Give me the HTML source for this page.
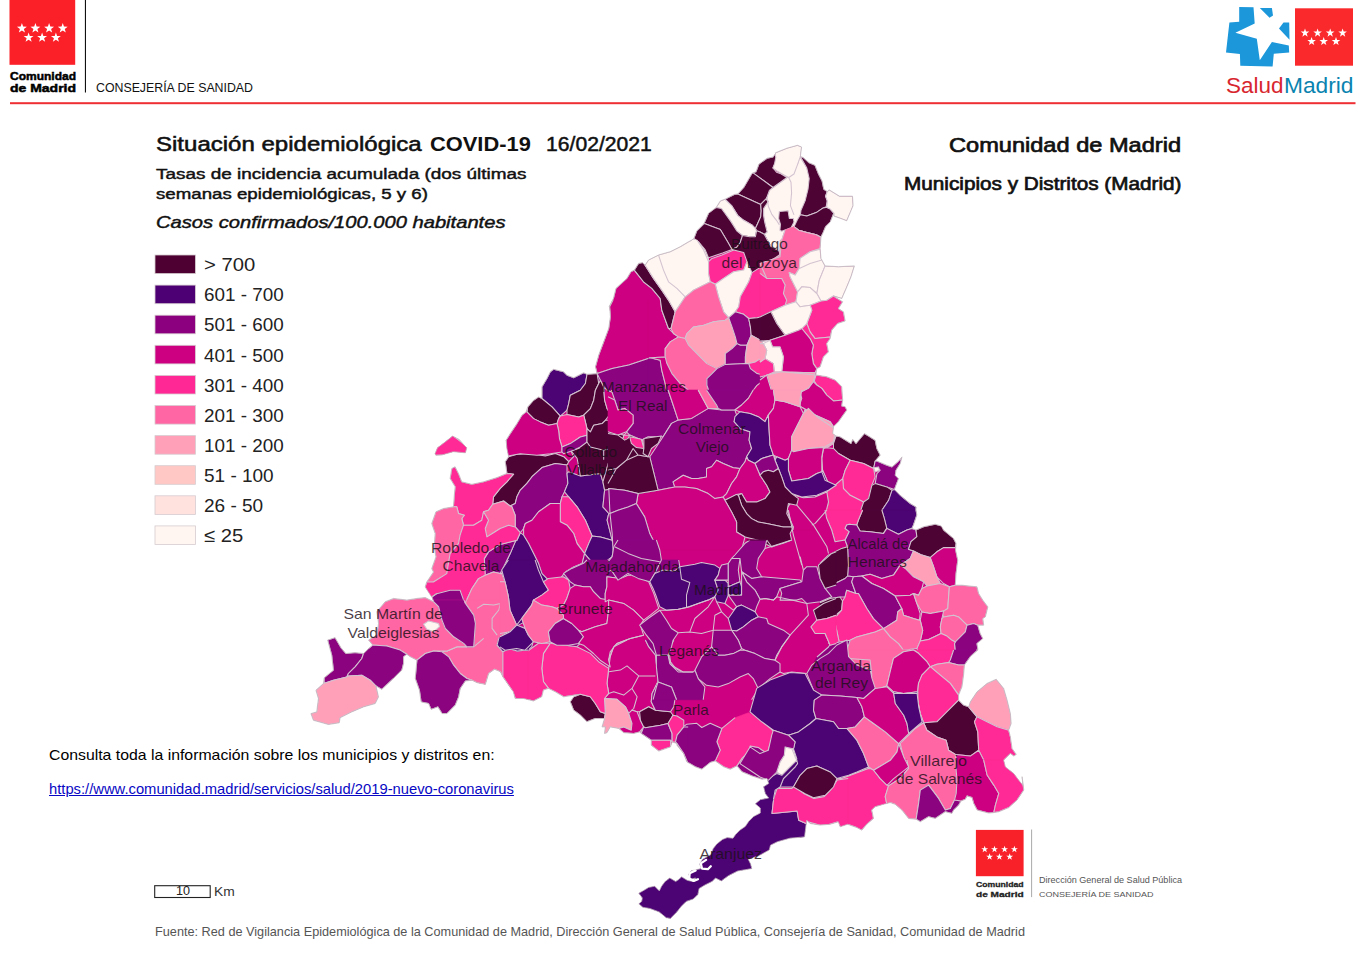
<!DOCTYPE html>
<html lang="es"><head><meta charset="utf-8"><title>Situación epidemiológica COVID-19</title>
<style>
html,body{margin:0;padding:0;background:#fff;}
body{width:1366px;height:958px;position:relative;overflow:hidden;font-family:'Liberation Sans',sans-serif;}
.t{position:absolute;white-space:pre;line-height:1;transform-origin:0 0;font-family:'Liberation Sans',sans-serif;}
svg{position:absolute;left:0;top:0;}
.lb{font-family:'Liberation Sans',sans-serif;font-size:14.6px;fill:#1d0f19;fill-opacity:0.82;}
</style></head><body>
<svg width="1366" height="958" viewBox="0 0 1366 958">
<rect x="9.5" y="0" width="65.7" height="64.8" fill="#fb1f27"/>
<polygon points="21.90,23.10 23.12,26.62 26.85,26.69 23.88,28.94 24.96,32.51 21.90,30.38 18.84,32.51 19.92,28.94 16.95,26.69 20.68,26.62" fill="#fff"/>
<polygon points="35.40,23.10 36.62,26.62 40.35,26.69 37.38,28.94 38.46,32.51 35.40,30.38 32.34,32.51 33.42,28.94 30.45,26.69 34.18,26.62" fill="#fff"/>
<polygon points="49.10,23.10 50.32,26.62 54.05,26.69 51.08,28.94 52.16,32.51 49.10,30.38 46.04,32.51 47.12,28.94 44.15,26.69 47.88,26.62" fill="#fff"/>
<polygon points="62.75,23.10 63.97,26.62 67.70,26.69 64.73,28.94 65.81,32.51 62.75,30.38 59.69,32.51 60.77,28.94 57.80,26.69 61.53,26.62" fill="#fff"/>
<polygon points="28.60,32.40 29.82,35.92 33.55,35.99 30.58,38.24 31.66,41.81 28.60,39.68 25.54,41.81 26.62,38.24 23.65,35.99 27.38,35.92" fill="#fff"/>
<polygon points="42.10,32.40 43.32,35.92 47.05,35.99 44.08,38.24 45.16,41.81 42.10,39.68 39.04,41.81 40.12,38.24 37.15,35.99 40.88,35.92" fill="#fff"/>
<polygon points="55.90,32.40 57.12,35.92 60.85,35.99 57.88,38.24 58.96,41.81 55.90,39.68 52.84,41.81 53.92,38.24 50.95,35.99 54.68,35.92" fill="#fff"/>
<rect x="84.9" y="0" width="1.1" height="92.5" fill="#111"/>
<rect x="10" y="102.2" width="1345.5" height="2" fill="#ee2f33"/>
<rect x="1295" y="8.3" width="58" height="57.4" fill="#fa2a2c"/>
<polygon points="1305.00,28.50 1306.06,31.54 1309.28,31.61 1306.71,33.56 1307.65,36.64 1305.00,34.80 1302.35,36.64 1303.29,33.56 1300.72,31.61 1303.94,31.54" fill="#fff"/>
<polygon points="1317.60,28.50 1318.66,31.54 1321.88,31.61 1319.31,33.56 1320.25,36.64 1317.60,34.80 1314.95,36.64 1315.89,33.56 1313.32,31.61 1316.54,31.54" fill="#fff"/>
<polygon points="1330.20,28.50 1331.26,31.54 1334.48,31.61 1331.91,33.56 1332.85,36.64 1330.20,34.80 1327.55,36.64 1328.49,33.56 1325.92,31.61 1329.14,31.54" fill="#fff"/>
<polygon points="1342.60,28.50 1343.66,31.54 1346.88,31.61 1344.31,33.56 1345.25,36.64 1342.60,34.80 1339.95,36.64 1340.89,33.56 1338.32,31.61 1341.54,31.54" fill="#fff"/>
<polygon points="1311.60,36.90 1312.66,39.94 1315.88,40.01 1313.31,41.96 1314.25,45.04 1311.60,43.20 1308.95,45.04 1309.89,41.96 1307.32,40.01 1310.54,39.94" fill="#fff"/>
<polygon points="1323.70,36.90 1324.76,39.94 1327.98,40.01 1325.41,41.96 1326.35,45.04 1323.70,43.20 1321.05,45.04 1321.99,41.96 1319.42,40.01 1322.64,39.94" fill="#fff"/>
<polygon points="1336.00,36.90 1337.06,39.94 1340.28,40.01 1337.71,41.96 1338.65,45.04 1336.00,43.20 1333.35,45.04 1334.29,41.96 1331.72,40.01 1334.94,39.94" fill="#fff"/>
<polygon fill="#1b97da" points="1239.2,7.1 1253.5,7.3 1254.7,23.5 1235.4,32.7 1256.8,38.7 1259.8,60.2 1271.9,42.1 1288.8,45.5 1289.2,52.6 1273.8,53.8 1272.6,66.5 1240.3,65.8 1239.9,54.1 1226,52.6 1229.4,22.6 1239.2,21.8"/>
<polygon fill="#1b97da" points="1259.8,7.9 1271.9,7.9 1273,15.4 1269.6,17.7"/>
<polygon fill="#1b97da" points="1279,28.6 1283.5,22.6 1289.2,22.6 1289.5,39.8"/>
<rect x="155" y="255.0" width="40.4" height="18.6" fill="#4e0033" stroke="#d6ccd0" stroke-width="0.8"/>
<rect x="155" y="285.1" width="40.4" height="18.6" fill="#4c0073" stroke="#d6ccd0" stroke-width="0.8"/>
<rect x="155" y="315.2" width="40.4" height="18.6" fill="#8c0080" stroke="#d6ccd0" stroke-width="0.8"/>
<rect x="155" y="345.3" width="40.4" height="18.6" fill="#cc0080" stroke="#d6ccd0" stroke-width="0.8"/>
<rect x="155" y="375.4" width="40.4" height="18.6" fill="#ff2894" stroke="#d6ccd0" stroke-width="0.8"/>
<rect x="155" y="405.5" width="40.4" height="18.6" fill="#ff66a3" stroke="#d6ccd0" stroke-width="0.8"/>
<rect x="155" y="435.6" width="40.4" height="18.6" fill="#ff9fb8" stroke="#d6ccd0" stroke-width="0.8"/>
<rect x="155" y="465.7" width="40.4" height="18.6" fill="#ffc8c4" stroke="#d6ccd0" stroke-width="0.8"/>
<rect x="155" y="495.8" width="40.4" height="18.6" fill="#ffe2de" stroke="#d6ccd0" stroke-width="0.8"/>
<rect x="155" y="525.9" width="40.4" height="18.6" fill="#fff5f1" stroke="#d6ccd0" stroke-width="0.8"/>
<rect x="154.7" y="885.7" width="55.5" height="11.8" fill="#fff" stroke="#222" stroke-width="1.1"/>
<rect x="975.9" y="829.9" width="47.7" height="46.3" fill="#f8212a"/>
<polygon points="984.70,845.80 985.55,848.24 988.12,848.29 986.07,849.84 986.82,852.31 984.70,850.84 982.58,852.31 983.33,849.84 981.28,848.29 983.85,848.24" fill="#fff"/>
<polygon points="994.50,845.80 995.35,848.24 997.92,848.29 995.87,849.84 996.62,852.31 994.50,850.84 992.38,852.31 993.13,849.84 991.08,848.29 993.65,848.24" fill="#fff"/>
<polygon points="1004.60,845.80 1005.45,848.24 1008.02,848.29 1005.97,849.84 1006.72,852.31 1004.60,850.84 1002.48,852.31 1003.23,849.84 1001.18,848.29 1003.75,848.24" fill="#fff"/>
<polygon points="1014.40,845.80 1015.25,848.24 1017.82,848.29 1015.77,849.84 1016.52,852.31 1014.40,850.84 1012.28,852.31 1013.03,849.84 1010.98,848.29 1013.55,848.24" fill="#fff"/>
<polygon points="989.60,853.20 990.45,855.64 993.02,855.69 990.97,857.24 991.72,859.71 989.60,858.24 987.48,859.71 988.23,857.24 986.18,855.69 988.75,855.64" fill="#fff"/>
<polygon points="999.40,853.20 1000.25,855.64 1002.82,855.69 1000.77,857.24 1001.52,859.71 999.40,858.24 997.28,859.71 998.03,857.24 995.98,855.69 998.55,855.64" fill="#fff"/>
<polygon points="1009.70,853.20 1010.55,855.64 1013.12,855.69 1011.07,857.24 1011.82,859.71 1009.70,858.24 1007.58,859.71 1008.33,857.24 1006.28,855.69 1008.85,855.64" fill="#fff"/>
<rect x="1031.1" y="829.5" width="1" height="67.6" fill="#aaa"/>
<defs><clipPath id="mc"><path id="ol" d="M775.2,152.9 L786.9,148.2 L797.5,145.3 L801.6,147.0 L800.4,156.4 L803.3,157.6 L809.2,162.8 L815.0,165.2 L818.5,174.0 L822.1,181.0 L823.8,189.2 L827.3,191.5 L829.1,189.8 L839.6,196.2 L852.5,196.2 L853.1,205.6 L850.2,212.6 L846.7,220.8 L840.8,218.5 L833.8,216.1 L833.8,213.2 L830.3,222.0 L825.6,226.7 L823.2,232.5 L820.9,237.2 L821.0,236.7 L820.1,248.4 L821.0,258.4 L825.1,265.9 L838.5,266.7 L854.4,265.9 L851.0,276.8 L846.9,286.8 L841.8,298.5 L833.5,296.0 L842.7,301.8 L838.5,308.5 L843.5,311.8 L845.2,321.0 L837.7,323.5 L831.8,330.2 L830.2,338.6 L826.8,343.6 L828.5,351.9 L823.5,356.9 L820.1,367.0 L816.8,368.6 L816.0,374.5 L816.0,375.0 L826.8,376.7 L835.2,380.0 L841.8,386.7 L842.7,400.1 L841.8,405.9 L845.2,406.7 L846.9,410.1 L842.7,415.9 L838.5,421.8 L833.5,426.8 L832.7,433.5 L836.0,436.0 L840.2,436.8 L851.0,443.5 L852.7,439.3 L856.0,443.5 L864.4,433.5 L868.6,436.0 L875.2,440.2 L876.9,448.5 L880.3,455.2 L875.2,461.0 L876.9,461.0 L886.9,465.2 L892.0,466.9 L898.6,461.0 L902.0,456.9 L900.3,463.5 L896.1,470.2 L895.3,475.2 L898.6,478.6 L896.1,485.2 L894.5,489.4 L900.3,495.3 L910.3,503.6 L916.2,507.0 L916.0,510.0 L916.9,515.0 L913.5,525.0 L911.9,528.4 L916.0,530.0 L923.6,526.7 L935.2,524.2 L941.1,525.9 L943.6,530.0 L953.6,538.4 L956.1,543.4 L955.6,550.1 L957.8,560.1 L956.1,573.5 L955.3,585.2 L962.0,585.2 L977.0,586.8 L978.7,593.5 L982.9,600.2 L987.9,606.9 L985.4,616.9 L982.9,618.6 L983.7,625.2 L977.8,625.2 L980.3,633.6 L982.9,638.6 L977.0,643.6 L977.8,648.6 L977.8,650.0 L970.3,656.7 L964.5,665.0 L963.6,675.1 L962.0,686.7 L958.6,695.1 L958.6,700.1 L963.6,705.1 L968.7,706.8 L970.3,701.8 L977.0,691.8 L987.0,683.4 L996.2,679.2 L1003.7,688.4 L1007.1,700.1 L1010.4,713.5 L1011.2,723.5 L1008.7,730.2 L1010.4,736.9 L1012.1,748.5 L1016.3,754.4 L1013.8,756.1 L1010.4,753.6 L1003.7,760.2 L1005.4,766.9 L1013.8,773.6 L1018.8,780.3 L1022.9,785.3 L1022.1,776.7 L1023.8,790.1 L1017.1,800.1 L1008.8,807.6 L998.8,811.8 L993.8,812.6 L988.7,813.1 L977.1,810.1 L973.7,803.4 L972.0,797.6 L967.0,795.9 L965.4,799.3 L961.2,800.9 L958.7,805.1 L953.7,810.1 L952.0,813.4 L945.3,811.8 L935.3,818.5 L928.6,816.8 L920.3,821.8 L916.1,819.3 L908.6,818.5 L901.9,810.1 L895.2,804.3 L890.2,802.6 L883.5,804.3 L875.2,806.8 L871.8,810.1 L873.5,818.5 L866.8,824.3 L861.8,830.2 L856.8,827.6 L847.6,824.3 L840.1,826.8 L838.4,821.8 L830.1,824.3 L820.0,825.1 L810.0,823.5 L806.7,820.1 L806.3,823.1 L804.6,836.9 L790.0,838.2 L777.5,841.7 L770.5,845.2 L769.3,849.9 L758.8,855.8 L748.3,859.3 L750.6,864.0 L751.8,868.6 L737.7,871.0 L728.4,875.7 L721.3,880.9 L715.5,878.0 L712.0,881.5 L704.9,885.0 L699.1,888.5 L697.9,894.4 L693.2,899.1 L686.2,901.4 L681.5,906.1 L676.8,912.0 L670.4,918.4 L666.3,917.8 L659.3,912.0 L649.9,908.5 L642.9,907.3 L638.8,903.8 L641.7,901.4 L642.3,897.9 L638.8,893.2 L642.9,890.9 L648.7,887.4 L654.6,886.2 L659.3,890.9 L661.6,886.2 L665.1,881.5 L669.8,878.0 L675.7,881.5 L679.2,879.2 L681.5,876.8 L687.4,880.4 L693.2,881.5 L695.6,878.0 L690.9,879.2 L688.5,874.5 L690.9,871.0 L695.6,869.8 L701.4,868.6 L699.7,864.0 L702.6,859.3 L710.8,854.6 L713.1,848.7 L716.7,844.1 L722.5,839.4 L727.2,837.6 L733.0,838.2 L735.4,834.7 L740.1,830.0 L745.3,826.4 L748.7,821.4 L753.7,816.4 L760.3,813.0 L760.3,808.0 L755.3,803.8 L760.3,799.7 L768.7,798.0 L765.3,793.5 L763.6,786.8 L768.7,783.5 L767.0,778.5 L762.0,779.3 L752.0,776.0 L741.9,771.8 L736.9,765.9 L730.2,769.3 L723.6,766.8 L715.2,760.9 L710.2,762.6 L701.8,769.3 L695.2,766.8 L686.8,761.8 L683.5,753.4 L676.8,745.1 L677.1,743.6 L672.1,741.9 L670.5,746.9 L658.8,751.1 L651.2,745.2 L651.2,740.2 L641.2,733.5 L639.6,731.9 L633.7,733.5 L623.7,732.7 L618.7,728.5 L610.3,726.9 L607.0,732.7 L604.5,733.5 L605.3,726.9 L602.0,726.9 L604.5,718.5 L595.3,718.5 L586.9,721.8 L580.3,715.2 L573.6,710.2 L570.2,701.8 L573.6,696.8 L580.3,694.3 L563.6,696.8 L555.2,691.8 L548.5,688.4 L543.5,690.1 L541.8,696.8 L533.5,701.0 L523.5,698.5 L515.1,698.5 L513.4,691.8 L512.1,690.2 L502.9,676.9 L500.4,671.8 L494.6,669.3 L488.7,673.5 L485.4,684.4 L477.1,682.7 L472.0,680.2 L465.4,681.0 L460.3,688.5 L458.7,696.9 L455.3,705.2 L447.0,713.6 L442.0,713.6 L437.8,706.9 L431.1,709.4 L428.6,703.6 L421.1,701.9 L419.4,690.2 L415.2,678.5 L416.9,660.2 L410.2,656.8 L406.9,654.3 L403.6,656.8 L403.6,663.5 L401.9,670.2 L393.5,678.5 L381.8,689.4 L376.0,686.0 L378.5,696.9 L375.2,703.6 L363.5,706.9 L351.8,711.9 L340.1,717.8 L339.3,722.8 L328.4,724.5 L313.4,720.3 L310.9,713.6 L316.7,711.9 L318.4,698.6 L315.9,690.2 L323.4,683.5 L324.2,677.7 L333.4,670.2 L331.7,655.1 L327.6,640.1 L335.1,637.6 L340.9,647.6 L345.9,653.5 L355.1,652.6 L363.5,653.5 L368.5,648.5 L372.7,645.1 L368.5,640.1 L376.8,635.1 L378.5,623.4 L376.8,611.7 L385.2,601.7 L393.5,598.4 L406.9,600.0 L416.9,598.4 L425.3,597.5 L433.6,601.7 L432.0,596.7 L437.0,593.3 L431.7,597.0 L425.1,587.0 L426.7,582.0 L433.4,572.0 L431.7,568.6 L435.9,556.9 L434.2,546.9 L435.1,533.5 L431.7,523.5 L435.9,511.8 L443.4,508.5 L453.4,506.8 L454.3,495.1 L455.1,486.8 L450.1,478.4 L451.8,468.4 L455.1,466.7 L458.5,473.4 L461.8,481.8 L471.8,484.3 L483.5,481.8 L496.9,477.6 L506.9,473.4 L505.2,461.7 L508.6,456.7 L506.9,448.4 L506.1,440.0 L506.0,440.3 L510.2,433.6 L516.9,423.6 L521.9,415.2 L526.1,411.9 L527.7,406.9 L533.6,400.2 L538.6,396.9 L541.9,398.5 L541.9,386.9 L546.9,378.5 L550.3,371.8 L553.6,369.3 L563.6,371.8 L567.0,375.2 L573.7,377.7 L583.7,372.7 L587.0,374.3 L597.1,373.5 L595.4,366.8 L598.7,355.1 L603.7,341.8 L608.7,328.4 L610.4,316.7 L609.6,306.7 L612.9,300.0 L609.2,306.8 L613.4,298.5 L615.9,288.4 L626.8,278.4 L630.9,271.7 L634.3,270.1 L638.5,263.4 L642.6,262.5 L645.1,265.1 L648.5,260.0 L658.5,255.0 L670.2,251.7 L680.2,246.7 L688.6,241.7 L691.9,240.0 L693.9,238.4 L696.8,230.8 L703.9,223.8 L708.5,213.2 L716.2,207.4 L720.3,200.9 L724.9,199.2 L734.3,194.5 L737.8,193.9 L743.7,187.5 L751.9,173.4 L756.0,171.7 L758.9,164.1 L767.1,158.2 L773.0,157.0 L775.5,153.5Z M435.0,453.7 L437.5,447.8 L445.1,442.0 L452.6,436.1 L459.3,439.5 L464.3,445.3 L466.8,447.8 L465.4,452.8 L453.4,451.7 L441.7,455.0 L435.9,455.3Z"/></clipPath></defs>
<g clip-path="url(#mc)" stroke="#d3c3d0" stroke-width="1.05" stroke-linejoin="round">
<path d="M775.2,152.9 L786.9,148.2 L797.5,145.3 L801.6,147.0 L800.4,156.4 L803.3,157.6 L809.2,162.8 L815.0,165.2 L818.5,174.0 L822.1,181.0 L823.8,189.2 L827.3,191.5 L829.1,189.8 L839.6,196.2 L852.5,196.2 L853.1,205.6 L850.2,212.6 L846.7,220.8 L840.8,218.5 L833.8,216.1 L833.8,213.2 L830.3,222.0 L825.6,226.7 L823.2,232.5 L820.9,237.2 L821.0,236.7 L820.1,248.4 L821.0,258.4 L825.1,265.9 L838.5,266.7 L854.4,265.9 L851.0,276.8 L846.9,286.8 L841.8,298.5 L833.5,296.0 L842.7,301.8 L838.5,308.5 L843.5,311.8 L845.2,321.0 L837.7,323.5 L831.8,330.2 L830.2,338.6 L826.8,343.6 L828.5,351.9 L823.5,356.9 L820.1,367.0 L816.8,368.6 L816.0,374.5 L816.0,375.0 L826.8,376.7 L835.2,380.0 L841.8,386.7 L842.7,400.1 L841.8,405.9 L845.2,406.7 L846.9,410.1 L842.7,415.9 L838.5,421.8 L833.5,426.8 L832.7,433.5 L836.0,436.0 L840.2,436.8 L851.0,443.5 L852.7,439.3 L856.0,443.5 L864.4,433.5 L868.6,436.0 L875.2,440.2 L876.9,448.5 L880.3,455.2 L875.2,461.0 L876.9,461.0 L886.9,465.2 L892.0,466.9 L898.6,461.0 L902.0,456.9 L900.3,463.5 L896.1,470.2 L895.3,475.2 L898.6,478.6 L896.1,485.2 L894.5,489.4 L900.3,495.3 L910.3,503.6 L916.2,507.0 L916.0,510.0 L916.9,515.0 L913.5,525.0 L911.9,528.4 L916.0,530.0 L923.6,526.7 L935.2,524.2 L941.1,525.9 L943.6,530.0 L953.6,538.4 L956.1,543.4 L955.6,550.1 L957.8,560.1 L956.1,573.5 L955.3,585.2 L962.0,585.2 L977.0,586.8 L978.7,593.5 L982.9,600.2 L987.9,606.9 L985.4,616.9 L982.9,618.6 L983.7,625.2 L977.8,625.2 L980.3,633.6 L982.9,638.6 L977.0,643.6 L977.8,648.6 L977.8,650.0 L970.3,656.7 L964.5,665.0 L963.6,675.1 L962.0,686.7 L958.6,695.1 L958.6,700.1 L963.6,705.1 L968.7,706.8 L970.3,701.8 L977.0,691.8 L987.0,683.4 L996.2,679.2 L1003.7,688.4 L1007.1,700.1 L1010.4,713.5 L1011.2,723.5 L1008.7,730.2 L1010.4,736.9 L1012.1,748.5 L1016.3,754.4 L1013.8,756.1 L1010.4,753.6 L1003.7,760.2 L1005.4,766.9 L1013.8,773.6 L1018.8,780.3 L1022.9,785.3 L1022.1,776.7 L1023.8,790.1 L1017.1,800.1 L1008.8,807.6 L998.8,811.8 L993.8,812.6 L988.7,813.1 L977.1,810.1 L973.7,803.4 L972.0,797.6 L967.0,795.9 L965.4,799.3 L961.2,800.9 L958.7,805.1 L953.7,810.1 L952.0,813.4 L945.3,811.8 L935.3,818.5 L928.6,816.8 L920.3,821.8 L916.1,819.3 L908.6,818.5 L901.9,810.1 L895.2,804.3 L890.2,802.6 L883.5,804.3 L875.2,806.8 L871.8,810.1 L873.5,818.5 L866.8,824.3 L861.8,830.2 L856.8,827.6 L847.6,824.3 L840.1,826.8 L838.4,821.8 L830.1,824.3 L820.0,825.1 L810.0,823.5 L806.7,820.1 L806.3,823.1 L804.6,836.9 L790.0,838.2 L777.5,841.7 L770.5,845.2 L769.3,849.9 L758.8,855.8 L748.3,859.3 L750.6,864.0 L751.8,868.6 L737.7,871.0 L728.4,875.7 L721.3,880.9 L715.5,878.0 L712.0,881.5 L704.9,885.0 L699.1,888.5 L697.9,894.4 L693.2,899.1 L686.2,901.4 L681.5,906.1 L676.8,912.0 L670.4,918.4 L666.3,917.8 L659.3,912.0 L649.9,908.5 L642.9,907.3 L638.8,903.8 L641.7,901.4 L642.3,897.9 L638.8,893.2 L642.9,890.9 L648.7,887.4 L654.6,886.2 L659.3,890.9 L661.6,886.2 L665.1,881.5 L669.8,878.0 L675.7,881.5 L679.2,879.2 L681.5,876.8 L687.4,880.4 L693.2,881.5 L695.6,878.0 L690.9,879.2 L688.5,874.5 L690.9,871.0 L695.6,869.8 L701.4,868.6 L699.7,864.0 L702.6,859.3 L710.8,854.6 L713.1,848.7 L716.7,844.1 L722.5,839.4 L727.2,837.6 L733.0,838.2 L735.4,834.7 L740.1,830.0 L745.3,826.4 L748.7,821.4 L753.7,816.4 L760.3,813.0 L760.3,808.0 L755.3,803.8 L760.3,799.7 L768.7,798.0 L765.3,793.5 L763.6,786.8 L768.7,783.5 L767.0,778.5 L762.0,779.3 L752.0,776.0 L741.9,771.8 L736.9,765.9 L730.2,769.3 L723.6,766.8 L715.2,760.9 L710.2,762.6 L701.8,769.3 L695.2,766.8 L686.8,761.8 L683.5,753.4 L676.8,745.1 L677.1,743.6 L672.1,741.9 L670.5,746.9 L658.8,751.1 L651.2,745.2 L651.2,740.2 L641.2,733.5 L639.6,731.9 L633.7,733.5 L623.7,732.7 L618.7,728.5 L610.3,726.9 L607.0,732.7 L604.5,733.5 L605.3,726.9 L602.0,726.9 L604.5,718.5 L595.3,718.5 L586.9,721.8 L580.3,715.2 L573.6,710.2 L570.2,701.8 L573.6,696.8 L580.3,694.3 L563.6,696.8 L555.2,691.8 L548.5,688.4 L543.5,690.1 L541.8,696.8 L533.5,701.0 L523.5,698.5 L515.1,698.5 L513.4,691.8 L512.1,690.2 L502.9,676.9 L500.4,671.8 L494.6,669.3 L488.7,673.5 L485.4,684.4 L477.1,682.7 L472.0,680.2 L465.4,681.0 L460.3,688.5 L458.7,696.9 L455.3,705.2 L447.0,713.6 L442.0,713.6 L437.8,706.9 L431.1,709.4 L428.6,703.6 L421.1,701.9 L419.4,690.2 L415.2,678.5 L416.9,660.2 L410.2,656.8 L406.9,654.3 L403.6,656.8 L403.6,663.5 L401.9,670.2 L393.5,678.5 L381.8,689.4 L376.0,686.0 L378.5,696.9 L375.2,703.6 L363.5,706.9 L351.8,711.9 L340.1,717.8 L339.3,722.8 L328.4,724.5 L313.4,720.3 L310.9,713.6 L316.7,711.9 L318.4,698.6 L315.9,690.2 L323.4,683.5 L324.2,677.7 L333.4,670.2 L331.7,655.1 L327.6,640.1 L335.1,637.6 L340.9,647.6 L345.9,653.5 L355.1,652.6 L363.5,653.5 L368.5,648.5 L372.7,645.1 L368.5,640.1 L376.8,635.1 L378.5,623.4 L376.8,611.7 L385.2,601.7 L393.5,598.4 L406.9,600.0 L416.9,598.4 L425.3,597.5 L433.6,601.7 L432.0,596.7 L437.0,593.3 L431.7,597.0 L425.1,587.0 L426.7,582.0 L433.4,572.0 L431.7,568.6 L435.9,556.9 L434.2,546.9 L435.1,533.5 L431.7,523.5 L435.9,511.8 L443.4,508.5 L453.4,506.8 L454.3,495.1 L455.1,486.8 L450.1,478.4 L451.8,468.4 L455.1,466.7 L458.5,473.4 L461.8,481.8 L471.8,484.3 L483.5,481.8 L496.9,477.6 L506.9,473.4 L505.2,461.7 L508.6,456.7 L506.9,448.4 L506.1,440.0 L506.0,440.3 L510.2,433.6 L516.9,423.6 L521.9,415.2 L526.1,411.9 L527.7,406.9 L533.6,400.2 L538.6,396.9 L541.9,398.5 L541.9,386.9 L546.9,378.5 L550.3,371.8 L553.6,369.3 L563.6,371.8 L567.0,375.2 L573.7,377.7 L583.7,372.7 L587.0,374.3 L597.1,373.5 L595.4,366.8 L598.7,355.1 L603.7,341.8 L608.7,328.4 L610.4,316.7 L609.6,306.7 L612.9,300.0 L609.2,306.8 L613.4,298.5 L615.9,288.4 L626.8,278.4 L630.9,271.7 L634.3,270.1 L638.5,263.4 L642.6,262.5 L645.1,265.1 L648.5,260.0 L658.5,255.0 L670.2,251.7 L680.2,246.7 L688.6,241.7 L691.9,240.0 L693.9,238.4 L696.8,230.8 L703.9,223.8 L708.5,213.2 L716.2,207.4 L720.3,200.9 L724.9,199.2 L734.3,194.5 L737.8,193.9 L743.7,187.5 L751.9,173.4 L756.0,171.7 L758.9,164.1 L767.1,158.2 L773.0,157.0 L775.5,153.5Z M435.0,453.7 L437.5,447.8 L445.1,442.0 L452.6,436.1 L459.3,439.5 L464.3,445.3 L466.8,447.8 L465.4,452.8 L453.4,451.7 L441.7,455.0 L435.9,455.3Z" fill="#cc0080" stroke="none"/>
<polygon points="433.4,455.3 436.7,447.0 452.6,435.3 467.6,447.0 465.9,454.5" fill="#ff2a95"/>
<polygon points="787.0,177.5 790.5,175.2 797.5,164.1 799.9,157.0 806.9,167.6 810.0,179.3 810.0,215.6 802.2,215.6 798.7,222.6 795.2,226.1 790.5,230.8 783.5,234.3 784.7,243.7 780.0,254.2 778.8,250.7 770.6,246.0 764.2,234.3 767.1,232.0 764.8,222.6 763.6,215.6 763.6,208.5 765.9,205.0 768.3,201.5 765.9,199.2 767.1,196.8 769.4,190.4 773.0,187.5" fill="#fff5f1" stroke="#fff5f1" stroke-width="0.6"/>
<path d="M810.0,215.6L802.2,215.6L798.7,222.6L795.2,226.1L790.5,230.8L783.5,234.3L784.7,243.7L780.0,254.2L778.8,250.7L770.6,246.0L764.2,234.3L767.1,232.0L764.8,222.6L763.6,215.6L763.6,208.5L765.9,205.0L768.3,201.5L765.9,199.2L767.1,196.8L769.4,190.4L773.0,187.5L787.0,177.5L790.5,175.2L797.5,164.1L799.9,157.0L806.9,167.6L810.0,179.3" fill="none"/>
<polygon points="650.0,257.7 659.4,255.4 667.6,251.9 680.4,246.0 688.6,242.5 693.9,238.4 699.2,242.5 705.0,249.5 708.5,257.7 708.5,278.8 650.0,278.8" fill="#fff5f1" stroke="#fff5f1" stroke-width="0.6"/>
<path d="M650.0,257.7L659.4,255.4L667.6,251.9L680.4,246.0L688.6,242.5L693.9,238.4L699.2,242.5L705.0,249.5L708.5,257.7L708.5,278.8" fill="none"/>
<polygon points="758.9,164.1 767.1,158.2 773.0,157.0 775.5,153.3 776.5,158.8 775.9,162.9 773.0,167.6 776.5,172.2 780.0,173.4 787.0,177.5 773.0,187.5 753.0,172.8 756.0,171.7" fill="#4e0335"/>
<polygon points="753.0,172.8 773.0,187.5 769.4,190.4 767.1,196.8 765.9,199.2 760.7,204.4 737.8,193.9 743.7,187.5 751.9,173.4" fill="#4e0335"/>
<polygon points="724.9,199.2 734.3,194.5 737.8,193.9 760.7,204.4 761.2,210.9 760.7,216.7 755.4,228.5 751.9,224.9 743.7,220.3 737.8,215.6 732.0,206.2 727.3,201.5" fill="#4e0335"/>
<polygon points="760.7,204.4 765.9,199.2 768.3,201.5 765.9,205.0 763.6,208.5 763.6,215.6 764.8,222.6 767.1,232.0 764.2,234.3 760.1,232.0 756.6,230.8 755.4,228.5 760.7,216.7 761.2,210.9" fill="#4e0335"/>
<polygon points="716.2,207.4 720.3,200.9 724.9,199.2 727.3,201.5 732.0,206.2 737.8,215.6 743.7,220.3 751.9,224.9 755.4,228.5 756.6,230.8 755.4,236.7 749.5,236.7 742.5,235.5 736.7,230.8 730.8,221.4 724.9,213.2 721.4,208.5" fill="#fff5f1"/>
<polygon points="708.5,213.2 716.2,207.4 721.4,208.5 724.9,213.2 730.8,221.4 736.7,230.8 742.5,235.5 740.2,242.5 736.7,247.2 732.0,249.5 727.3,241.3 720.3,229.6 705.0,223.8 703.9,223.8" fill="#4e0335"/>
<polygon points="693.9,238.4 696.8,230.8 703.9,223.8 705.0,223.8 720.3,229.6 727.3,241.3 732.0,249.5 722.6,253.0 708.5,257.7 705.0,249.5 699.2,242.5" fill="#4e0335"/>
<polygon points="740.2,242.5 742.5,235.5 749.5,236.7 755.4,236.7 756.6,230.8 760.1,232.0 764.2,234.3 770.6,246.0 778.8,250.7 780.0,254.2 773.0,261.9 767.1,265.9 755.4,271.8 747.2,276.5 742.5,271.8 741.3,260.1 732.0,249.5 736.7,247.2" fill="#4e0335" stroke="#4e0335" stroke-width="0.6"/>
<path d="M742.5,271.8L741.3,260.1L732.0,249.5L736.7,247.2L740.2,242.5L742.5,235.5L749.5,236.7L755.4,236.7L756.6,230.8L760.1,232.0L764.2,234.3L770.6,246.0L778.8,250.7L780.0,254.2L773.0,261.9" fill="none"/>
<polyline points="767.1,196.8 768.3,206.2 771.8,214.4 776.5,220.3 779.4,224.9" fill="none"/>
<polygon points="775.2,152.9 786.9,148.2 797.5,145.3 801.6,147.0 800.4,156.4 797.5,164.6 794.0,174.0 788.7,177.5 785.2,175.7 777.0,171.0 772.9,168.1 774.6,163.4 775.8,157.6" fill="#fff5f1"/>
<polyline points="788.7,177.5 791.0,182.2 791.6,192.7 790.4,205.6 794.0,214.9" fill="none"/>
<polygon points="800.4,156.4 803.3,157.6 809.2,162.8 815.0,165.2 818.5,174.0 822.1,181.0 823.8,189.2 827.3,191.5 825.6,196.2 827.3,200.9 826.2,206.7 823.2,207.9 816.2,212.6 806.8,216.1 800.4,214.7 801.0,210.3 805.1,200.9 808.0,189.2 809.2,178.6 806.8,168.1" fill="#4e0335"/>
<polygon points="800.4,214.7 806.8,216.1 816.2,212.6 823.2,207.9 826.7,207.3 830.3,209.1 833.8,213.2 830.3,222.0 825.6,226.7 823.2,232.5 820.9,237.2 816.2,234.8 806.8,232.5 798.6,230.2 794.0,226.7 797.5,219.6" fill="#4e0335"/>
<polygon points="827.3,191.5 829.1,189.8 839.6,196.2 852.5,196.2 853.1,205.6 850.2,212.6 846.7,220.8 840.8,218.5 833.8,216.1 833.8,213.2 830.3,209.1 826.7,207.3 827.3,200.9 825.6,196.2" fill="#fff5f1"/>
<polygon points="779.3,211.4 788.1,210.8 789.3,218.5 793.4,218.5 794.0,222.0 791.0,227.8 781.7,231.3 779.9,230.2 780.5,224.3 778.7,218.5" fill="#4e0335"/>
<polygon points="785.2,232.5 794.0,226.7 798.6,230.2 806.8,232.5 816.2,234.8 820.9,237.2 821.5,257.1 781.1,257.1 783.4,240.7" fill="#ff66a3" stroke="#ff66a3" stroke-width="0.6"/>
<path d="M781.1,257.1L783.4,240.7L785.2,232.5L794.0,226.7L798.6,230.2L806.8,232.5L816.2,234.8L820.9,237.2L821.5,257.1" fill="none"/>
<polygon points="615.9,288.4 626.8,278.4 630.9,271.7 634.3,270.1 643.5,281.8 651.8,288.4 660.2,298.5 661.8,310.2 668.5,328.5 673.5,333.5 678.5,336.9 670.2,341.9 665.2,348.6 665.2,356.9 650.2,357.8 636.8,361.9 621.8,365.3 605.1,370.3 596.7,372.0 595.9,366.9 599.2,356.9 603.4,341.9 609.2,328.5 610.1,316.8 609.2,306.8 613.4,298.5" fill="#cc0080"/>
<polygon points="634.3,270.1 638.5,263.4 642.6,262.5 645.1,265.1 653.5,278.4 661.8,290.1 668.5,300.1 675.2,311.8 671.0,328.5 668.5,328.5 661.8,310.2 660.2,298.5 651.8,288.4 643.5,281.8" fill="#4e0335"/>
<polygon points="645.1,265.1 648.5,260.0 658.5,255.0 670.2,251.7 680.2,246.7 688.6,241.7 691.9,240.0 696.9,240.0 703.6,250.0 708.6,261.7 708.6,273.4 710.3,281.8 703.6,285.1 693.6,290.1 685.2,296.8 675.2,311.8 668.5,300.1 661.8,290.1 653.5,278.4" fill="#fff5f1" stroke="#fff5f1" stroke-width="0.6"/>
<path d="M696.9,240.0L703.6,250.0L708.6,261.7L708.6,273.4L710.3,281.8L703.6,285.1L693.6,290.1L685.2,296.8L675.2,311.8L668.5,300.1L661.8,290.1L653.5,278.4L645.1,265.1L648.5,260.0L658.5,255.0L670.2,251.7L680.2,246.7L688.6,241.7L691.9,240.0" fill="none"/>
<polyline points="658.5,255.0 663.5,270.1 668.5,281.8 676.9,288.4 685.2,296.8" fill="none"/>
<polygon points="708.6,261.7 712.0,258.4 722.0,255.0 733.7,250.0 743.7,252.5 747.0,261.7 743.7,270.1 733.7,271.7 723.6,278.4 715.3,284.3 710.3,281.8 708.6,273.4" fill="#ff2a95"/>
<polygon points="715.3,284.3 723.6,278.4 733.7,271.7 743.7,270.1 747.0,261.7 752.0,272.6 748.7,281.8 740.3,296.8 738.7,306.8 735.3,311.8 728.7,317.7 723.6,311.8 718.6,296.8" fill="#fff5f1"/>
<polygon points="675.2,311.8 685.2,296.8 693.6,290.1 703.6,285.1 710.3,281.8 715.3,284.3 718.6,296.8 723.6,311.8 728.7,317.7 725.3,320.2 713.6,321.8 703.6,325.2 693.6,326.9 686.9,333.5 685.2,338.5 678.5,336.9 673.5,333.5 671.0,328.5" fill="#ff66a3"/>
<polygon points="752.0,272.6 763.7,265.1 768.7,273.4 783.8,280.1 784.6,290.1 780.4,300.1 785.4,303.5 775.4,308.5 768.7,315.2 757.1,317.7 748.7,318.5 743.7,314.3 735.3,311.8 738.7,306.8 740.3,296.8 748.7,281.8" fill="#ff2a95"/>
<polygon points="763.7,265.1 779.6,255.0 780.4,240.0 808.2,240.0 808.2,250.0 797.1,256.7 788.8,268.4 797.1,281.8 798.8,296.8 795.5,301.8 785.4,303.5 780.4,300.1 784.6,290.1 783.8,280.1 768.7,273.4" fill="#ff66a3" stroke="#ff66a3" stroke-width="0.6"/>
<path d="M808.2,250.0L797.1,256.7L788.8,268.4L797.1,281.8L798.8,296.8L795.5,301.8L785.4,303.5L780.4,300.1L784.6,290.1L783.8,280.1L768.7,273.4L763.7,265.1L779.6,255.0L780.4,240.0" fill="none"/>
<polygon points="685.2,338.5 686.9,333.5 693.6,326.9 703.6,325.2 713.6,321.8 725.3,320.2 728.7,317.7 732.0,326.9 735.3,336.9 737.0,343.6 732.0,348.6 725.3,353.6 725.3,363.6 717.0,368.6 706.9,363.6 696.9,353.6 688.6,345.2" fill="#ff9fb8"/>
<polygon points="670.2,341.9 678.5,336.9 685.2,338.5 688.6,345.2 696.9,353.6 706.9,363.6 717.0,368.6 712.0,373.6 706.9,378.6 706.9,385.3 712.0,399.7 696.9,399.7 688.6,390.3 680.2,383.6 671.9,373.6 666.9,363.6 665.2,356.9 665.2,348.6" fill="#ff66a3" stroke="#ff66a3" stroke-width="0.6"/>
<path d="M696.9,399.7L688.6,390.3L680.2,383.6L671.9,373.6L666.9,363.6L665.2,356.9L665.2,348.6L670.2,341.9L678.5,336.9L685.2,338.5L688.6,345.2L696.9,353.6L706.9,363.6L717.0,368.6L712.0,373.6L706.9,378.6L706.9,385.3L712.0,399.7" fill="none"/>
<polygon points="728.7,317.7 735.3,311.8 743.7,314.3 748.7,318.5 750.4,326.9 751.2,335.2 747.0,345.2 740.3,345.2 737.0,343.6 735.3,336.9 732.0,326.9" fill="#8c0380"/>
<polygon points="748.7,318.5 757.1,317.7 768.7,315.2 775.4,323.5 783.8,335.2 772.1,340.2 762.1,341.1 751.2,335.2 750.4,326.9" fill="#4e0335"/>
<polygon points="768.7,315.2 775.4,308.5 785.4,303.5 795.5,301.8 808.2,306.8 808.2,323.5 798.8,330.2 790.5,333.5 783.8,335.2 775.4,323.5" fill="#fff5f1" stroke="#fff5f1" stroke-width="0.6"/>
<path d="M808.2,323.5L798.8,330.2L790.5,333.5L783.8,335.2L775.4,323.5L768.7,315.2L775.4,308.5L785.4,303.5L795.5,301.8L808.2,306.8" fill="none"/>
<polygon points="725.3,353.6 732.0,348.6 737.0,343.6 740.3,345.2 747.0,345.2 745.4,356.9 745.4,363.6 725.3,364.4" fill="#8c0380"/>
<polygon points="747.0,345.2 751.2,335.2 762.1,341.1 763.7,348.6 766.2,355.2 755.4,361.9 748.7,363.6 745.4,363.6 745.4,356.9" fill="#ff9fb8"/>
<polygon points="762.1,341.1 772.1,340.2 777.1,346.9 782.9,348.6 782.1,361.9 782.9,372.0 773.8,372.0 772.1,366.9 766.2,355.2 763.7,348.6" fill="#fff5f1"/>
<polygon points="748.7,363.6 755.4,361.9 766.2,355.2 772.1,366.9 773.8,372.0 763.7,375.3 757.1,373.6 750.4,368.6" fill="#ff2a95"/>
<polygon points="772.1,340.2 783.8,335.2 790.5,333.5 798.8,330.2 808.2,323.5 808.2,373.6 782.9,372.0 782.1,361.9 782.9,348.6 777.1,346.9" fill="#cc0080" stroke="#cc0080" stroke-width="0.6"/>
<path d="M808.2,373.6L782.9,372.0L782.1,361.9L782.9,348.6L777.1,346.9L772.1,340.2L783.8,335.2L790.5,333.5L798.8,330.2L808.2,323.5" fill="none"/>
<polygon points="706.9,378.6 712.0,373.6 717.0,368.6 725.3,364.4 745.4,363.6 748.7,363.6 750.4,368.6 757.1,373.6 763.7,375.3 766.2,378.6 757.1,385.3 752.0,392.0 747.0,399.7 712.0,399.7 706.9,385.3" fill="#8c0380" stroke="#8c0380" stroke-width="0.6"/>
<path d="M712.0,399.7L706.9,385.3L706.9,378.6L712.0,373.6L717.0,368.6L725.3,364.4L745.4,363.6L748.7,363.6L750.4,368.6L757.1,373.6L763.7,375.3L766.2,378.6L757.1,385.3L752.0,392.0L747.0,399.7" fill="none"/>
<polygon points="763.7,375.3 773.8,372.0 782.9,372.0 808.2,373.6 808.2,399.7 777.1,399.7 772.1,390.3 766.2,378.6" fill="#ff9fb8" stroke="#ff9fb8" stroke-width="0.6"/>
<path d="M777.1,399.7L772.1,390.3L766.2,378.6L763.7,375.3L773.8,372.0L782.9,372.0L808.2,373.6" fill="none"/>
<polygon points="747.0,399.7 752.0,392.0 757.1,385.3 766.2,378.6 772.1,390.3 777.1,399.7" fill="#cc0080" stroke="#cc0080" stroke-width="0.6"/>
<path d="M747.0,399.7L752.0,392.0L757.1,385.3L766.2,378.6L772.1,390.3L777.1,399.7" fill="none"/>
<polygon points="596.7,372.0 605.1,370.3 621.8,365.3 636.8,361.9 650.2,357.8 660.2,360.3 661.8,370.3 665.2,383.6 668.5,399.7 605.1,399.7 598.4,385.3" fill="#8c0380" stroke="#8c0380" stroke-width="0.6"/>
<path d="M605.1,399.7L598.4,385.3L596.7,372.0L605.1,370.3L621.8,365.3L636.8,361.9L650.2,357.8L660.2,360.3L661.8,370.3L665.2,383.6L668.5,399.7" fill="none"/>
<polygon points="650.2,357.8 665.2,356.9 666.9,363.6 671.9,373.6 680.2,383.6 688.6,390.3 696.9,399.7 668.5,399.7 665.2,383.6 661.8,370.3 660.2,360.3" fill="#cc0080" stroke="#cc0080" stroke-width="0.6"/>
<path d="M668.5,399.7L665.2,383.6L661.8,370.3L660.2,360.3L650.2,357.8L665.2,356.9L666.9,363.6L671.9,373.6L680.2,383.6L688.6,390.3L696.9,399.7" fill="none"/>
<polygon points="785.1,230.0 793.9,226.7 798.6,230.2 806.8,232.5 816.3,234.8 821.0,237.2 820.1,248.4 810.1,251.7 800.1,258.4 799.3,268.4 795.1,275.1 789.2,272.6 790.1,276.8 797.6,291.8 795.9,301.8 785.1,305.2 786.7,300.2 783.4,293.5 785.1,285.1 781.7,278.4 766.7,278.4 760.0,273.4 760.0,263.4 780.0,256.7 781.7,240.0" fill="#ff66a3" stroke="#ff66a3" stroke-width="0.6"/>
<path d="M793.9,226.7L798.6,230.2L806.8,232.5L816.3,234.8L821.0,237.2L820.1,248.4L810.1,251.7L800.1,258.4L799.3,268.4L795.1,275.1L789.2,272.6L790.1,276.8L797.6,291.8L795.9,301.8L785.1,305.2L786.7,300.2L783.4,293.5L785.1,285.1L781.7,278.4L766.7,278.4L760.0,273.4M760.0,263.4L780.0,256.7L781.7,240.0L785.1,230.0" fill="none"/>
<polygon points="760.0,273.4 766.7,278.4 781.7,278.4 785.1,285.1 783.4,293.5 786.7,300.2 785.1,305.2 770.9,311.8 760.0,316.9" fill="#ff2a95" stroke="#ff2a95" stroke-width="0.6"/>
<path d="M760.0,273.4L766.7,278.4L781.7,278.4L785.1,285.1L783.4,293.5L786.7,300.2L785.1,305.2L770.9,311.8L760.0,316.9" fill="none"/>
<polyline points="760.0,263.4 766.7,278.4" fill="none"/>
<polygon points="810.1,251.7 820.1,249.2 821.0,258.4 825.1,265.9 819.3,280.1 816.8,293.5 810.1,287.6 801.8,286.8 797.6,291.8 790.1,276.8 789.2,272.6 795.1,275.1 799.3,268.4 800.1,258.4" fill="#fff5f1"/>
<polyline points="799.3,268.4 810.1,263.4 818.5,260.9 821.8,260.1" fill="none"/>
<polygon points="825.1,265.9 838.5,266.7 854.4,265.9 851.0,276.8 846.9,286.8 841.8,298.5 833.5,296.0 826.8,300.2 821.0,301.0 816.8,293.5 819.3,280.1" fill="#fff5f1"/>
<polygon points="797.6,291.8 801.8,286.8 810.1,287.6 816.8,293.5 821.0,301.0 810.1,305.2 800.1,306.8 795.9,301.8" fill="#fff5f1"/>
<polygon points="821.0,301.0 826.8,300.2 833.5,296.0 842.7,301.8 838.5,308.5 843.5,311.8 845.2,321.0 837.7,323.5 831.8,330.2 830.2,336.9 815.1,338.6 810.1,331.9 806.8,323.5 811.8,310.2 810.1,305.2" fill="#ff2a95"/>
<polygon points="801.8,328.5 806.8,323.5 810.1,331.9 815.1,338.6 830.2,336.9 830.2,338.6 826.8,343.6 828.5,351.9 823.5,356.9 820.1,367.0 816.8,368.6 813.4,363.6 811.8,353.6 813.4,345.2 810.1,338.6" fill="#ff2a95"/>
<polygon points="770.9,311.8 785.1,305.2 795.9,301.8 800.1,306.8 810.1,305.2 811.8,310.2 806.8,323.5 801.8,328.5 798.4,330.2 785.1,335.2 776.7,323.5" fill="#fff5f1"/>
<polygon points="760.0,316.9 770.9,311.8 776.7,323.5 785.1,335.2 770.0,340.2 760.0,341.1" fill="#4e0335" stroke="#4e0335" stroke-width="0.6"/>
<path d="M760.0,316.9L770.9,311.8L776.7,323.5L785.1,335.2L770.0,340.2L760.0,341.1" fill="none"/>
<polygon points="770.0,340.2 785.1,335.2 798.4,330.2 801.8,328.5 810.1,338.6 813.4,345.2 811.8,353.6 813.4,363.6 816.8,368.6 815.1,372.8 781.7,372.0 783.4,356.9 780.0,346.9 772.5,346.9" fill="#cc0080"/>
<polygon points="763.3,343.6 770.0,340.2 772.5,346.9 780.0,346.9 783.4,356.9 781.7,372.0 774.2,372.0 773.4,363.6 765.0,358.6 766.7,350.3" fill="#fff5f1"/>
<polygon points="766.7,375.3 774.2,372.0 781.7,372.0 815.1,372.8 813.4,380.3 808.4,389.7 770.0,389.7" fill="#ff9fb8" stroke="#ff9fb8" stroke-width="0.6"/>
<path d="M770.0,389.7L766.7,375.3L774.2,372.0L781.7,372.0L815.1,372.8L813.4,380.3L808.4,389.7" fill="none"/>
<polygon points="816.0,374.5 826.8,377.0 836.8,382.0 841.8,389.7 818.5,389.7 815.1,380.3" fill="#ff2a95" stroke="#ff2a95" stroke-width="0.6"/>
<path d="M818.5,389.7L815.1,380.3L816.0,374.5L826.8,377.0L836.8,382.0L841.8,389.7" fill="none"/>
<polygon points="760.0,362.0 765.0,358.6 773.4,363.6 774.2,372.0 766.7,375.3 760.0,377.0" fill="#ff2a95" stroke="#ff2a95" stroke-width="0.6"/>
<path d="M760.0,362.0L765.0,358.6L773.4,363.6L774.2,372.0L766.7,375.3L760.0,377.0" fill="none"/>
<polygon points="760.0,343.6 763.3,343.6 766.7,350.3 765.0,358.6 760.0,362.0" fill="#ff9fb8" stroke="#ff9fb8" stroke-width="0.6"/>
<path d="M760.0,343.6L763.3,343.6L766.7,350.3L765.0,358.6L760.0,362.0" fill="none"/>
<polygon points="766.7,375.0 781.7,371.7 815.1,375.0 813.4,381.7 808.4,388.4 800.1,392.5 801.8,398.4 799.3,405.9 790.1,401.7 775.9,398.4 771.7,391.7" fill="#ff9fb8"/>
<polygon points="816.0,375.0 826.8,376.7 835.2,380.0 841.8,386.7 842.7,400.1 833.5,400.9 826.8,395.1 821.8,388.4 816.8,385.0 814.3,380.9" fill="#ff2a95"/>
<polygon points="800.1,392.5 808.4,388.4 813.4,381.7 816.8,385.0 821.8,388.4 826.8,395.1 833.5,400.9 842.7,400.1 841.8,405.9 845.2,406.7 846.9,410.1 842.7,415.9 838.5,421.8 833.5,426.8 830.2,421.8 815.1,415.1 805.1,409.3 799.3,405.9 801.8,398.4" fill="#cc0080"/>
<polygon points="805.1,409.3 815.1,415.1 830.2,421.8 833.5,426.8 832.7,433.5 836.0,436.0 833.5,443.5 826.8,447.7 823.5,448.5 810.1,446.0 791.7,451.8 790.9,440.2 796.7,425.1 801.8,418.4" fill="#ff9fb8"/>
<polygon points="775.9,398.4 790.1,401.7 799.3,405.9 805.1,409.3 801.8,418.4 796.7,425.1 790.9,440.2 791.7,451.8 789.2,458.5 778.4,458.5 773.4,448.5 770.0,433.5 768.4,418.4 773.4,410.1" fill="#cc0080"/>
<polygon points="760.0,380.0 766.7,375.0 771.7,391.7 775.9,398.4 773.4,410.1 768.4,418.4 763.3,420.1 760.0,415.1" fill="#cc0080" stroke="#cc0080" stroke-width="0.6"/>
<path d="M760.0,380.0L766.7,375.0L771.7,391.7L775.9,398.4L773.4,410.1L768.4,418.4L763.3,420.1L760.0,415.1" fill="none"/>
<polygon points="760.0,420.1 763.3,420.1 768.4,418.4 770.0,433.5 773.4,448.5 774.2,455.2 768.4,456.9 760.0,456.9" fill="#4c0373" stroke="#4c0373" stroke-width="0.6"/>
<path d="M760.0,420.1L763.3,420.1L768.4,418.4L770.0,433.5L773.4,448.5L774.2,455.2L768.4,456.9L760.0,456.9" fill="none"/>
<polygon points="760.0,456.9 768.4,456.9 774.2,455.2 775.9,463.5 773.4,468.5 766.7,470.2 760.0,475.2" fill="#8c0380" stroke="#8c0380" stroke-width="0.6"/>
<path d="M760.0,456.9L768.4,456.9L774.2,455.2L775.9,463.5L773.4,468.5L766.7,470.2L760.0,475.2" fill="none"/>
<polygon points="833.5,443.5 836.0,436.0 840.2,436.8 851.0,443.5 852.7,439.3 856.0,443.5 864.4,433.5 868.6,436.0 875.2,440.2 876.9,448.5 880.3,455.2 875.2,461.0 873.6,468.5 863.6,463.5 853.5,461.0 850.2,460.2 838.5,453.5 833.5,448.5" fill="#4e0335"/>
<polygon points="876.9,461.0 886.9,465.2 892.0,466.9 898.6,461.0 902.0,456.9 900.3,463.5 896.1,470.2 895.3,475.2 898.6,478.6 896.1,485.2 894.5,489.4 886.9,486.9 875.2,483.6 876.9,473.6 880.3,470.2 876.9,467.7 873.6,468.5 875.2,461.0" fill="#8c0380"/>
<polygon points="873.6,467.7 878.6,466.9 879.4,470.2 875.2,471.9" fill="#fff5f1"/>
<polygon points="791.7,451.8 810.1,446.0 823.5,448.5 821.8,458.5 822.6,470.2 816.8,474.4 803.4,478.6 790.1,481.1 787.6,470.2 790.1,463.5 789.2,458.5" fill="#cc0080"/>
<polygon points="823.5,448.5 826.8,447.7 833.5,448.5 838.5,453.5 850.2,460.2 845.2,470.2 842.7,478.6 835.2,485.2 828.5,483.6 822.6,470.2 821.8,458.5" fill="#cc0080"/>
<polygon points="775.9,456.9 778.4,458.5 789.2,458.5 790.1,463.5 787.6,470.2 790.1,481.1 803.4,478.6 816.8,474.4 822.6,470.2 828.5,483.6 835.2,485.2 826.8,491.9 815.1,496.9 803.4,497.8 791.7,494.4 783.4,485.2 780.0,473.6 775.9,463.5" fill="#4c0373"/>
<polygon points="853.5,461.0 863.6,463.5 873.6,468.5 875.2,476.9 871.9,485.2 868.6,498.6 863.6,502.0 850.2,495.3 843.5,488.6 842.7,478.6 845.2,470.2 850.2,460.2" fill="#ff2a95"/>
<polygon points="835.2,485.2 842.7,478.6 843.5,488.6 850.2,495.3 863.6,502.0 860.2,512.0 855.2,522.0 846.9,529.7 830.2,529.7 825.1,515.3 828.5,502.0 826.8,491.9" fill="#ff2a95" stroke="#ff2a95" stroke-width="0.6"/>
<path d="M830.2,529.7L825.1,515.3L828.5,502.0L826.8,491.9L835.2,485.2L842.7,478.6L843.5,488.6L850.2,495.3L863.6,502.0L860.2,512.0L855.2,522.0L846.9,529.7" fill="none"/>
<polygon points="875.2,483.6 886.9,486.9 892.0,490.3 888.6,500.3 881.9,510.3 885.3,520.3 886.9,529.7 858.5,529.7 855.2,522.0 860.2,512.0 863.6,502.0 868.6,498.6 871.9,485.2" fill="#4e0335" stroke="#4e0335" stroke-width="0.6"/>
<path d="M858.5,529.7L855.2,522.0L860.2,512.0L863.6,502.0L868.6,498.6L871.9,485.2L875.2,483.6L886.9,486.9L892.0,490.3L888.6,500.3L881.9,510.3L885.3,520.3L886.9,529.7" fill="none"/>
<polygon points="892.0,490.3 894.5,489.4 900.3,495.3 910.3,503.6 916.2,507.0 915.3,515.3 913.7,522.0 911.2,527.8 905.3,529.7 886.9,529.7 885.3,520.3 881.9,510.3 888.6,500.3" fill="#4c0373" stroke="#4c0373" stroke-width="0.6"/>
<path d="M886.9,529.7L885.3,520.3L881.9,510.3L888.6,500.3L892.0,490.3L894.5,489.4L900.3,495.3L910.3,503.6L916.2,507.0L915.3,515.3L913.7,522.0L911.2,527.8L905.3,529.7" fill="none"/>
<polygon points="760.0,475.2 766.7,470.2 773.4,468.5 775.9,463.5 780.0,473.6 783.4,485.2 791.7,494.4 796.7,500.3 795.9,503.6 790.1,503.6 786.7,508.6 791.7,523.7 793.4,529.7 760.0,529.7" fill="#4e0335" stroke="#4e0335" stroke-width="0.6"/>
<path d="M760.0,475.2L766.7,470.2L773.4,468.5L775.9,463.5L780.0,473.6L783.4,485.2L791.7,494.4L796.7,500.3L795.9,503.6L790.1,503.6L786.7,508.6L791.7,523.7L793.4,529.7" fill="none"/>
<polygon points="791.7,494.4 803.4,497.8 815.1,496.9 826.8,491.9 828.5,502.0 825.1,515.3 830.2,529.7 793.4,529.7 791.7,523.7 786.7,508.6 790.1,503.6 795.9,503.6 796.7,500.3" fill="#cc0080" stroke="#cc0080" stroke-width="0.6"/>
<path d="M793.4,529.7L791.7,523.7L786.7,508.6L790.1,503.6L795.9,503.6L796.7,500.3L791.7,494.4L803.4,497.8L815.1,496.9L826.8,491.9L828.5,502.0L825.1,515.3L830.2,529.7" fill="none"/>
<polygon points="846.9,529.7 851.0,523.7 855.2,522.0 858.5,529.7" fill="#8c0380" stroke="#8c0380" stroke-width="0.6"/>
<path d="M846.9,529.7L851.0,523.7L855.2,522.0L858.5,529.7" fill="none"/>
<polygon points="881.8,510.0 916.0,510.0 916.9,515.0 913.5,525.0 911.9,528.4 906.9,530.0 898.5,534.2 886.8,528.4 884.3,518.4" fill="#4c0373" stroke="#4c0373" stroke-width="0.6"/>
<path d="M916.0,510.0L916.9,515.0L913.5,525.0L911.9,528.4L906.9,530.0L898.5,534.2L886.8,528.4L884.3,518.4L881.8,510.0" fill="none"/>
<polygon points="862.6,510.0 881.8,510.0 884.3,518.4 886.8,528.4 883.5,533.4 870.1,531.7 860.1,530.9 856.7,525.0 858.4,520.0" fill="#4e0335" stroke="#4e0335" stroke-width="0.6"/>
<path d="M881.8,510.0L884.3,518.4L886.8,528.4L883.5,533.4L870.1,531.7L860.1,530.9L856.7,525.0L858.4,520.0L862.6,510.0" fill="none"/>
<polygon points="825.0,510.0 862.6,510.0 858.4,520.0 856.7,525.0 849.2,524.2 846.7,525.0 845.1,528.4 849.2,531.7 845.1,540.1 835.0,541.7 831.7,530.0 826.7,518.4" fill="#ff2a95" stroke="#ff2a95" stroke-width="0.6"/>
<path d="M862.6,510.0L858.4,520.0L856.7,525.0L849.2,524.2L846.7,525.0L845.1,528.4L849.2,531.7L845.1,540.1L835.0,541.7L831.7,530.0L826.7,518.4L825.0,510.0" fill="none"/>
<polygon points="820.0,510.0 825.0,510.0 826.7,518.4 831.7,530.0 835.0,541.7 845.1,540.1 847.6,546.7 841.7,548.4 828.4,555.1 820.0,563.4" fill="#cc0080" stroke="#cc0080" stroke-width="0.6"/>
<path d="M825.0,510.0L826.7,518.4L831.7,530.0L835.0,541.7L845.1,540.1L847.6,546.7L841.7,548.4L828.4,555.1L820.0,563.4" fill="none"/>
<polygon points="846.7,525.0 849.2,524.2 856.7,525.0 860.1,530.9 870.1,531.7 883.5,533.4 886.8,528.4 898.5,534.2 906.9,530.0 911.9,528.4 916.0,530.0 916.9,536.7 911.0,541.7 908.5,549.3 913.5,550.9 910.2,558.4 900.2,565.1 893.5,575.1 881.8,578.5 870.1,574.3 861.8,576.0 853.4,576.8 847.6,576.0 848.4,565.1 847.6,546.7 845.1,540.1 849.2,531.7 845.1,528.4" fill="#8c0380"/>
<polygon points="916.0,530.0 923.6,526.7 935.2,524.2 941.9,525.9 943.6,530.0 953.6,538.4 956.1,543.4 955.3,547.6 943.6,547.6 936.9,551.8 930.2,557.6 921.9,555.1 913.5,550.9 908.5,549.3 911.0,541.7 916.9,536.7" fill="#4e0335"/>
<polygon points="930.2,557.6 936.9,551.8 943.6,547.6 955.3,547.6 957.8,560.1 956.1,573.5 955.3,585.2 949.4,586.8 943.6,583.5 936.9,576.8 933.6,566.8" fill="#cc0080"/>
<polygon points="900.2,565.1 910.2,558.4 913.5,550.9 921.9,555.1 930.2,557.6 933.6,566.8 936.9,576.8 940.3,583.5 926.9,586.0 923.6,581.8 913.5,576.8 905.2,568.5" fill="#ff9fb8"/>
<polygon points="861.8,576.0 870.1,574.3 881.8,578.5 893.5,575.1 900.2,565.1 905.2,568.5 913.5,576.8 923.6,581.8 921.9,588.5 918.5,595.2 913.5,593.5 910.2,595.2 895.2,596.0 883.5,588.5 871.8,583.5" fill="#cc0080"/>
<polygon points="820.0,563.4 828.4,555.1 841.7,548.4 847.6,546.7 848.4,565.1 847.6,576.0 845.1,578.5 835.0,583.5 823.3,588.5 820.0,583.5" fill="#4e0335" stroke="#4e0335" stroke-width="0.6"/>
<path d="M820.0,563.4L828.4,555.1L841.7,548.4L847.6,546.7L848.4,565.1L847.6,576.0L845.1,578.5L835.0,583.5L823.3,588.5L820.0,583.5" fill="none"/>
<polygon points="820.0,588.5 823.3,588.5 835.0,583.5 845.1,578.5 847.6,576.0 853.4,576.8 851.7,581.8 855.9,593.5 846.7,590.2 845.1,596.9 840.0,596.9 830.0,598.5 820.0,602.7 820.0,583.5" fill="#8c0380" stroke="#8c0380" stroke-width="0.6"/>
<path d="M820.0,588.5L823.3,588.5L835.0,583.5L845.1,578.5L847.6,576.0L853.4,576.8L851.7,581.8L855.9,593.5L846.7,590.2L845.1,596.9L840.0,596.9L830.0,598.5L820.0,602.7" fill="none"/>
<polygon points="820.0,602.7 830.0,598.5 840.0,596.9 842.5,601.0 841.7,610.2 833.4,616.9 820.0,621.1" fill="#4e0335" stroke="#4e0335" stroke-width="0.6"/>
<path d="M820.0,602.7L830.0,598.5L840.0,596.9L842.5,601.0L841.7,610.2L833.4,616.9L820.0,621.1" fill="none"/>
<polygon points="853.4,576.8 861.8,576.0 871.8,583.5 883.5,588.5 895.2,596.0 901.8,608.5 897.7,611.9 896.8,620.2 883.5,628.6 873.4,618.6 866.8,608.5 858.4,593.5 855.9,593.5 851.7,581.8" fill="#8c0380"/>
<polygon points="846.7,590.2 855.9,593.5 858.4,593.5 866.8,608.5 873.4,618.6 883.5,628.6 875.1,631.9 856.7,636.9 850.1,640.3 839.2,642.0 836.7,630.3 834.2,618.6 841.7,610.2 842.5,601.0 845.1,596.9" fill="#ff2a95"/>
<polygon points="895.2,596.0 910.2,595.2 913.5,593.5 916.9,603.5 920.2,613.6 919.4,620.2 913.5,618.6 903.5,615.2 901.8,608.5" fill="#cc0080"/>
<polygon points="918.5,595.2 921.9,588.5 926.9,586.0 940.3,583.5 949.4,586.8 948.6,596.9 947.8,608.5 943.6,611.1 930.2,613.6 921.9,611.9 916.9,603.5 913.5,593.5" fill="#ff66a3"/>
<polygon points="949.4,586.8 955.3,585.2 962.0,585.2 977.0,586.8 978.7,593.5 982.9,600.2 987.9,606.9 985.4,616.9 982.9,618.6 983.7,625.2 977.8,625.2 973.7,623.6 967.0,625.2 958.6,616.9 953.6,615.2 943.6,616.9 941.9,612.7 943.6,611.1 947.8,608.5 948.6,596.9" fill="#ff66a3"/>
<polygon points="921.9,611.9 930.2,613.6 943.6,611.1 941.9,618.6 940.3,626.9 941.1,633.6 928.6,639.4 920.2,641.1 922.7,630.3 920.2,620.2" fill="#cc0080"/>
<polygon points="943.6,616.9 953.6,615.2 958.6,616.9 967.0,625.2 965.3,631.9 955.3,642.0 952.0,640.3 946.9,636.1 941.1,633.6 940.3,626.9 941.9,618.6" fill="#ff66a3"/>
<polygon points="967.0,625.2 973.7,623.6 977.8,625.2 980.3,633.6 982.9,638.6 977.0,643.6 977.8,648.6 972.0,655.3 965.3,663.7 957.0,665.3 951.1,662.8 955.3,653.6 954.5,643.6 955.3,642.0 965.3,631.9" fill="#8c0380"/>
<polygon points="883.5,628.6 896.8,620.2 897.7,611.9 901.8,608.5 903.5,615.2 913.5,618.6 919.4,620.2 920.2,620.2 922.7,630.3 920.2,641.1 916.9,648.6 903.5,650.3 898.5,643.6 890.2,636.9" fill="#ff66a3"/>
<polygon points="850.1,640.3 856.7,636.9 875.1,631.9 883.5,628.6 890.2,636.9 898.5,643.6 903.5,650.3 893.5,658.7 890.2,669.7 850.1,669.7 846.7,650.3" fill="#ff66a3" stroke="#ff66a3" stroke-width="0.6"/>
<path d="M850.1,669.7L846.7,650.3L850.1,640.3L856.7,636.9L875.1,631.9L883.5,628.6L890.2,636.9L898.5,643.6L903.5,650.3L893.5,658.7L890.2,669.7" fill="none"/>
<polygon points="920.2,641.1 928.6,639.4 941.1,633.6 946.9,636.1 952.0,640.3 955.3,642.0 954.5,643.6 955.3,653.6 951.1,662.8 936.9,665.3 930.2,667.0 926.9,660.3 918.5,652.0 916.9,648.6" fill="#ff2a95"/>
<polygon points="893.5,658.7 903.5,650.3 916.9,648.6 918.5,652.0 926.9,660.3 930.2,667.0 928.6,669.7 890.2,669.7" fill="#cc0080" stroke="#cc0080" stroke-width="0.6"/>
<path d="M890.2,669.7L893.5,658.7L903.5,650.3L916.9,648.6L918.5,652.0L926.9,660.3L930.2,667.0L928.6,669.7" fill="none"/>
<polygon points="930.2,667.0 936.9,665.3 951.1,662.8 957.0,665.3 963.6,669.7 928.6,669.7" fill="#ff66a3" stroke="#ff66a3" stroke-width="0.6"/>
<path d="M928.6,669.7L930.2,667.0L936.9,665.3L951.1,662.8L957.0,665.3L963.6,669.7" fill="none"/>
<polygon points="820.0,621.1 833.4,616.9 834.2,618.6 836.7,630.3 839.2,642.0 830.0,644.5 825.0,633.6 820.0,632.8" fill="#ff2a95" stroke="#ff2a95" stroke-width="0.6"/>
<path d="M820.0,621.1L833.4,616.9L834.2,618.6L836.7,630.3L839.2,642.0L830.0,644.5L825.0,633.6L820.0,632.8" fill="none"/>
<polyline points="834.2,618.6 830.0,630.3 828.4,643.6" fill="none"/>
<polygon points="830.0,644.5 839.2,642.0 850.1,640.3 846.7,650.3 850.1,669.7 810.0,669.7 817.0,657.0 828.5,647.0" fill="#8c0380" stroke="#8c0380" stroke-width="0.6"/>
<path d="M817.0,657.0L828.5,647.0L830.0,644.5L839.2,642.0L850.1,640.3L846.7,650.3L850.1,669.7" fill="none"/>
<polygon points="846.7,650.0 913.5,650.0 903.5,651.7 893.5,658.4 890.2,671.7 886.8,685.9 875.1,690.1 870.1,683.4 871.8,675.1 870.1,660.0 848.4,658.4" fill="#ff66a3" stroke="#ff66a3" stroke-width="0.6"/>
<path d="M913.5,650.0L903.5,651.7L893.5,658.4L890.2,671.7L886.8,685.9L875.1,690.1L870.1,683.4L871.8,675.1L870.1,660.0L848.4,658.4L846.7,650.0" fill="none"/>
<polygon points="918.5,653.3 913.5,650.0 953.6,650.0 950.3,660.0 948.6,662.5 936.9,664.2 930.2,666.7 926.9,661.7" fill="#ff2a95" stroke="#ff2a95" stroke-width="0.6"/>
<path d="M953.6,650.0L950.3,660.0L948.6,662.5L936.9,664.2L930.2,666.7L926.9,661.7L918.5,653.3L913.5,650.0" fill="none"/>
<polygon points="953.6,650.0 977.8,650.0 970.3,656.7 964.5,665.0 958.6,665.0 948.6,662.5 950.3,660.0" fill="#8c0380" stroke="#8c0380" stroke-width="0.6"/>
<path d="M977.8,650.0L970.3,656.7L964.5,665.0L958.6,665.0L948.6,662.5L950.3,660.0L953.6,650.0" fill="none"/>
<polygon points="930.2,666.7 936.9,664.2 948.6,662.5 958.6,665.0 964.5,665.0 963.6,675.1 962.0,686.7 958.6,695.1 950.3,683.4 940.3,675.1" fill="#ff66a3"/>
<polygon points="893.5,658.4 903.5,651.7 913.5,650.0 918.5,653.3 926.9,661.7 930.2,666.7 921.9,675.1 918.5,683.4 917.7,691.8 903.5,693.4 893.5,691.8 886.8,685.9 890.2,671.7" fill="#cc0080"/>
<polygon points="930.2,666.7 940.3,675.1 950.3,683.4 958.6,695.1 958.6,700.1 953.6,705.1 945.3,713.5 936.9,721.8 923.6,722.7 920.2,713.5 917.7,700.1 917.7,691.8 918.5,683.4 921.9,675.1" fill="#ff2a95"/>
<polygon points="958.6,700.1 963.6,705.1 968.7,706.8 977.0,716.8 974.5,721.8 977.8,731.8 978.7,750.2 970.3,756.1 955.3,754.4 948.6,750.2 946.1,740.2 936.9,736.9 926.9,730.2 923.6,722.7 936.9,721.8 945.3,713.5 953.6,705.1" fill="#4e0335"/>
<polygon points="968.7,706.8 970.3,701.8 977.0,691.8 987.0,683.4 996.2,679.2 1003.7,688.4 1007.1,700.1 1010.4,713.5 1011.2,723.5 1008.7,730.2 997.1,726.8 987.0,721.8 977.0,716.8" fill="#ff9fb8"/>
<polygon points="974.5,721.8 977.0,716.8 987.0,721.8 997.1,726.8 1008.7,730.2 1010.4,736.9 1012.1,748.5 1016.3,754.4 1013.8,756.1 1010.4,753.6 1003.7,760.2 1005.4,766.9 1013.8,773.6 1018.8,780.3 1022.9,785.3 1020.4,795.3 1012.1,803.7 1005.4,809.7 995.4,809.7 998.7,793.6 992.0,776.9 985.4,763.6 978.7,750.2 977.8,731.8" fill="#ff2a95" stroke="#ff2a95" stroke-width="0.6"/>
<path d="M995.4,809.7L998.7,793.6L992.0,776.9L985.4,763.6L978.7,750.2L977.8,731.8L974.5,721.8L977.0,716.8L987.0,721.8L997.1,726.8L1008.7,730.2L1010.4,736.9L1012.1,748.5L1016.3,754.4L1013.8,756.1L1010.4,753.6L1003.7,760.2L1005.4,766.9L1013.8,773.6L1018.8,780.3L1022.9,785.3L1020.4,795.3L1012.1,803.7L1005.4,809.7" fill="none"/>
<polygon points="955.3,754.4 970.3,756.1 978.7,750.2 985.4,763.6 992.0,776.9 998.7,793.6 995.4,809.7 978.7,809.7 970.3,798.7 965.3,797.0 958.6,800.3 956.1,783.6 957.0,766.9" fill="#cc0080" stroke="#cc0080" stroke-width="0.6"/>
<path d="M978.7,809.7L970.3,798.7L965.3,797.0L958.6,800.3L956.1,783.6L957.0,766.9L955.3,754.4L970.3,756.1L978.7,750.2L985.4,763.6L992.0,776.9L998.7,793.6L995.4,809.7" fill="none"/>
<polygon points="893.5,691.8 903.5,693.4 917.7,691.8 917.7,700.1 920.2,713.5 923.6,722.7 915.2,728.5 909.4,734.3 905.2,726.8 906.0,720.2 898.5,711.8 893.5,701.8" fill="#4c0373"/>
<polygon points="860.1,700.1 866.8,698.4 875.1,690.1 886.8,685.9 893.5,691.8 893.5,701.8 898.5,711.8 906.0,720.2 905.2,726.8 909.4,734.3 900.2,741.9 886.8,733.5 876.8,730.2 866.8,720.2 864.3,710.1" fill="#cc0080"/>
<polygon points="909.4,734.3 915.2,728.5 923.6,722.7 926.9,730.2 936.9,736.9 946.1,740.2 948.6,750.2 955.3,754.4 957.0,766.9 956.1,783.6 958.6,800.3 953.6,808.7 946.9,809.7 936.9,795.3 926.9,785.3 918.5,795.3 916.9,809.7 890.2,809.7 885.1,795.3 890.2,787.0 895.2,782.0 908.5,770.3 903.5,756.9 900.2,743.5" fill="#ff66a3" stroke="#ff66a3" stroke-width="0.6"/>
<path d="M946.9,809.7L936.9,795.3L926.9,785.3L918.5,795.3L916.9,809.7M890.2,809.7L885.1,795.3L890.2,787.0L895.2,782.0L908.5,770.3L903.5,756.9L900.2,743.5L909.4,734.3L915.2,728.5L923.6,722.7L926.9,730.2L936.9,736.9L946.1,740.2L948.6,750.2L955.3,754.4L957.0,766.9L956.1,783.6L958.6,800.3L953.6,808.7" fill="none"/>
<polygon points="873.4,769.4 886.8,763.6 893.5,755.2 899.3,746.0 903.5,756.9 908.5,770.3 895.2,782.0 890.2,785.3 885.1,780.3" fill="#cc0080"/>
<polygon points="852.6,730.2 865.1,719.3 876.8,730.2 886.8,733.5 899.3,743.5 893.5,755.2 886.8,763.6 873.4,769.4 868.4,763.6 865.1,753.6 861.8,743.5" fill="#ff66a3"/>
<polygon points="820.0,766.9 830.0,770.3 836.7,776.9 833.4,788.6 826.7,797.0 820.0,798.7" fill="#4e0335" stroke="#4e0335" stroke-width="0.6"/>
<path d="M820.0,766.9L830.0,770.3L836.7,776.9L833.4,788.6L826.7,797.0L820.0,798.7" fill="none"/>
<polygon points="836.7,776.9 843.4,778.6 858.4,773.6 870.1,768.6 873.4,769.4 885.1,780.3 890.2,787.0 885.1,795.3 886.8,803.7 873.4,807.0 871.8,809.7 820.0,809.7 820.0,798.7 826.7,797.0 833.4,788.6" fill="#ff2a95" stroke="#ff2a95" stroke-width="0.6"/>
<path d="M820.0,798.7L826.7,797.0L833.4,788.6L836.7,776.9L843.4,778.6L858.4,773.6L870.1,768.6L873.4,769.4L885.1,780.3L890.2,787.0L885.1,795.3L886.8,803.7L873.4,807.0L871.8,809.7" fill="none"/>
<polygon points="918.5,795.3 926.9,785.3 936.9,795.3 946.9,809.7 953.6,808.7 958.6,800.3 959.5,805.3 953.6,809.7 916.9,809.7" fill="#8c0380" stroke="#8c0380" stroke-width="0.6"/>
<path d="M953.6,808.7L958.6,800.3L959.5,805.3L953.6,809.7M916.9,809.7L918.5,795.3L926.9,785.3L936.9,795.3L946.9,809.7" fill="none"/>
<polygon points="800.0,760.0 866.8,760.0 868.5,768.4 855.1,773.4 841.8,778.4 835.1,778.4 831.7,773.4 821.7,767.5 808.4,766.7 800.0,771.7" fill="#4c0373" stroke="#4c0373" stroke-width="0.6"/>
<path d="M866.8,760.0L868.5,768.4L855.1,773.4L841.8,778.4L835.1,778.4L831.7,773.4L821.7,767.5L808.4,766.7L800.0,771.7" fill="none"/>
<polygon points="800.0,771.7 808.4,766.7 821.7,767.5 831.7,773.4 835.1,778.4 830.1,790.1 823.4,796.7 815.0,797.6 806.7,793.4 800.0,792.6" fill="#4e0335" stroke="#4e0335" stroke-width="0.6"/>
<path d="M800.0,771.7L808.4,766.7L821.7,767.5L831.7,773.4L835.1,778.4L830.1,790.1L823.4,796.7L815.0,797.6L806.7,793.4L800.0,792.6" fill="none"/>
<polygon points="800.0,792.6 806.7,793.4 815.0,797.6 823.4,796.7 830.1,790.1 835.1,778.4 841.8,778.4 855.1,773.4 868.5,768.4 873.5,769.2 880.2,778.4 888.5,785.9 885.2,796.7 886.9,804.3 875.2,806.8 871.8,810.1 873.5,818.5 866.8,824.3 861.8,830.2 856.8,827.6 847.6,824.3 840.1,826.8 838.4,821.8 830.1,824.3 820.0,825.1 810.0,823.5 806.7,820.1 800.0,818.5" fill="#ff2a95" stroke="#ff2a95" stroke-width="0.6"/>
<path d="M800.0,792.6L806.7,793.4L815.0,797.6L823.4,796.7L830.1,790.1L835.1,778.4L841.8,778.4L855.1,773.4L868.5,768.4L873.5,769.2L880.2,778.4L888.5,785.9L885.2,796.7L886.9,804.3L875.2,806.8L871.8,810.1L873.5,818.5L866.8,824.3L861.8,830.2L856.8,827.6L847.6,824.3L840.1,826.8L838.4,821.8L830.1,824.3L820.0,825.1L810.0,823.5L806.7,820.1L800.0,818.5" fill="none"/>
<polygon points="800.0,818.5 806.7,820.1 805.0,830.2 803.3,836.8 800.0,838.5" fill="#4c0373" stroke="#4c0373" stroke-width="0.6"/>
<path d="M800.0,818.5L806.7,820.1L805.0,830.2L803.3,836.8L800.0,838.5" fill="none"/>
<polygon points="873.5,769.2 893.5,760.0 906.9,760.0 908.6,768.4 900.2,778.4 888.5,785.9 880.2,778.4" fill="#cc0080" stroke="#cc0080" stroke-width="0.6"/>
<path d="M906.9,760.0L908.6,768.4L900.2,778.4L888.5,785.9L880.2,778.4L873.5,769.2L893.5,760.0" fill="none"/>
<polygon points="906.9,760.0 955.3,760.0 957.0,780.0 956.2,793.4 954.5,800.1 950.3,808.4 945.3,810.1 938.6,798.4 928.6,785.1 920.3,790.1 918.6,803.4 916.1,819.3 908.6,818.5 901.9,810.1 895.2,804.3 890.2,802.6 886.9,804.3 885.2,796.7 888.5,785.9 900.2,778.4 908.6,768.4" fill="#ff66a3" stroke="#ff66a3" stroke-width="0.6"/>
<path d="M955.3,760.0L957.0,780.0L956.2,793.4L954.5,800.1L950.3,808.4L945.3,810.1L938.6,798.4L928.6,785.1L920.3,790.1L918.6,803.4L916.1,819.3L908.6,818.5L901.9,810.1L895.2,804.3L890.2,802.6L886.9,804.3L885.2,796.7L888.5,785.9L900.2,778.4L908.6,768.4L906.9,760.0" fill="none"/>
<polygon points="920.3,790.1 928.6,785.1 938.6,798.4 945.3,810.1 950.3,808.4 954.5,800.1 961.2,800.9 958.7,805.1 953.7,810.1 952.0,813.4 945.3,811.8 935.3,818.5 928.6,816.8 920.3,821.8 916.1,819.3 918.6,803.4" fill="#8c0380"/>
<polygon points="955.3,760.0 983.7,760.0 987.1,775.0 993.8,785.1 998.8,793.4 995.4,805.1 993.8,812.6 988.7,813.1 977.1,810.1 973.7,803.4 972.0,797.6 967.0,795.9 965.4,799.3 961.2,800.9 954.5,800.1 956.2,793.4 957.0,780.0" fill="#cc0080" stroke="#cc0080" stroke-width="0.6"/>
<path d="M983.7,760.0L987.1,775.0L993.8,785.1L998.8,793.4L995.4,805.1L993.8,812.6L988.7,813.1L977.1,810.1L973.7,803.4L972.0,797.6L967.0,795.9L965.4,799.3L961.2,800.9L954.5,800.1L956.2,793.4L957.0,780.0L955.3,760.0" fill="none"/>
<polygon points="983.7,760.0 1004.6,760.0 1015.5,768.4 1022.1,776.7 1023.8,790.1 1017.1,800.1 1008.8,807.6 998.8,811.8 993.8,812.6 995.4,805.1 998.8,793.4 993.8,785.1 987.1,775.0" fill="#ff2a95" stroke="#ff2a95" stroke-width="0.6"/>
<path d="M1004.6,760.0L1015.5,768.4L1022.1,776.7L1023.8,790.1L1017.1,800.1L1008.8,807.6L998.8,811.8L993.8,812.6L995.4,805.1L998.8,793.4L993.8,785.1L987.1,775.0L983.7,760.0" fill="none"/>
<polygon points="630.0,862.0 772.0,862.0 772.0,930.0 630.0,930.0" fill="#4c0373"/>
<polygon points="768.7,783.5 775.3,775.1 777.0,773.4 782.0,776.0 785.4,776.8 778.7,783.5 777.0,788.5 773.7,798.5 772.0,813.5 797.1,811.0 798.7,820.2 806.2,823.6 813.8,836.9 803.7,853.6 770.3,870.3 736.9,887.0 703.5,920.4 653.4,953.8 569.9,937.1 620.0,870.3 703.5,820.2 750.3,790.2 762.0,783.5" fill="#4c0373" stroke="#4c0373" stroke-width="0.6"/>
<path d="M620.0,870.3L703.5,820.2L750.3,790.2L762.0,783.5L768.7,783.5L775.3,775.1L777.0,773.4L782.0,776.0L785.4,776.8L778.7,783.5L777.0,788.5L773.7,798.5L772.0,813.5L797.1,811.0L798.7,820.2L806.2,823.6L813.8,836.9L803.7,853.6L770.3,870.3L736.9,887.0" fill="none"/>
<polygon points="793.7,785.1 805.4,768.4 817.1,766.8 833.8,773.4 837.1,780.1 830.5,790.2 823.8,796.8 813.8,798.5 803.7,793.5" fill="#4e0335"/>
<polygon points="777.0,788.5 792.0,788.5 793.7,785.1 803.7,793.5 813.8,798.5 823.8,796.8 830.5,790.2 837.1,780.1 848.2,778.5 848.2,826.9 840.5,826.9 837.1,821.9 828.8,824.4 820.4,825.2 808.7,821.9 806.2,823.6 798.7,820.2 797.1,811.0 772.0,813.5 773.7,798.5" fill="#ff2a95" stroke="#ff2a95" stroke-width="0.6"/>
<path d="M848.2,826.9L840.5,826.9L837.1,821.9L828.8,824.4L820.4,825.2L808.7,821.9L806.2,823.6L798.7,820.2L797.1,811.0L772.0,813.5L773.7,798.5L777.0,788.5L792.0,788.5L793.7,785.1L803.7,793.5L813.8,798.5L823.8,796.8L830.5,790.2L837.1,780.1L848.2,778.5" fill="none"/>
<polygon points="785.4,747.6 793.7,748.4 797.1,760.1 787.0,770.1 782.0,776.0 777.0,773.4 780.3,763.4 784.5,756.7" fill="#fff5f1"/>
<polygon points="752.0,776.0 762.0,779.3 767.0,778.5 768.7,783.5 775.3,775.1 777.0,773.4 780.3,763.4 784.5,756.7 785.4,747.6 788.7,745.1 795.4,741.7 788.7,735.0 773.7,731.7 770.3,743.4 767.0,753.4 758.6,747.6 750.3,745.9 748.6,751.7 741.9,758.4 736.9,765.9 741.9,771.8" fill="#8c0380"/>
<polygon points="721.9,728.4 735.1,717.7 748.4,712.7 762.0,719.3 768.7,726.7 773.7,731.7 770.3,743.4 767.0,753.4 758.6,747.6 750.3,745.9 748.6,751.7 741.9,758.4 736.9,765.9 730.2,769.3 723.6,766.8 715.2,760.9 720.2,750.1 716.9,741.7" fill="#ff2a95" stroke="#ff2a95" stroke-width="0.6"/>
<path d="M762.0,719.3L768.7,726.7L773.7,731.7L770.3,743.4L767.0,753.4L758.6,747.6L750.3,745.9L748.6,751.7L741.9,758.4L736.9,765.9L730.2,769.3L723.6,766.8L715.2,760.9L720.2,750.1L716.9,741.7L721.9,728.4L735.1,717.7" fill="none"/>
<polygon points="676.8,736.7 683.5,726.7 686.8,724.2 696.8,723.3 701.8,727.5 710.2,723.3 721.9,728.4 716.9,741.7 720.2,750.1 715.2,760.9 710.2,762.6 701.8,769.3 695.2,766.8 686.8,761.8 683.5,753.4 676.8,745.1" fill="#8c0380"/>
<polygon points="668.4,725.0 676.8,720.0 683.5,726.7 676.8,736.7 673.4,741.7 670.1,735.0" fill="#ff2a95"/>
<polygon points="640.0,733.4 643.4,728.4 656.7,726.7 668.4,725.0 670.1,735.0 673.4,741.7 670.1,740.0 650.9,740.9 641.7,735.0" fill="#8c0380"/>
<polygon points="650.9,740.9 670.1,740.0 673.4,741.7 670.1,746.7 656.7,750.9 650.9,745.1" fill="#ff2a95"/>
<polygon points="643.4,720.0 668.4,720.0 668.4,725.0 656.7,726.7 643.4,728.4" fill="#4e0335" stroke="#4e0335" stroke-width="0.6"/>
<path d="M668.4,720.0L668.4,725.0L656.7,726.7L643.4,728.4L643.4,720.0" fill="none"/>
<polygon points="620.0,720.0 630.0,720.0 630.0,727.5 620.0,728.4" fill="#ff9fb8" stroke="#ff9fb8" stroke-width="0.6"/>
<path d="M630.0,720.0L630.0,727.5L620.0,728.4" fill="none"/>
<polygon points="608.7,668.4 610.3,656.7 613.7,646.7 627.0,640.0 645.4,640.0 648.7,646.7 655.4,655.0 657.1,670.1 657.9,681.8 652.1,693.4 651.2,701.8 655.4,710.2 648.7,706.8 639.6,711.8 637.1,711.8 632.0,710.2 628.7,713.5 625.4,706.8 617.0,699.3 604.5,698.5 608.7,693.4 607.0,683.4" fill="#cc0080" stroke="#cc0080" stroke-width="0.6"/>
<path d="M645.4,640.0L648.7,646.7L655.4,655.0L657.1,670.1L657.9,681.8L652.1,693.4L651.2,701.8L655.4,710.2L648.7,706.8L639.6,711.8L637.1,711.8L632.0,710.2L628.7,713.5L625.4,706.8L617.0,699.3L604.5,698.5L608.7,693.4L607.0,683.4L608.7,668.4L610.3,656.7L613.7,646.7L627.0,640.0" fill="none"/>
<polyline points="608.7,671.7 620.3,670.1 627.0,665.9 633.7,671.7 638.7,675.9 655.4,675.9" fill="none"/>
<polyline points="638.7,675.9 632.0,688.4 623.7,695.1 613.7,691.8 608.7,693.4" fill="none"/>
<polyline points="632.0,688.4 637.1,696.8 633.7,708.5 632.0,710.2" fill="none"/>
<polygon points="570.2,701.8 573.6,696.8 580.3,694.3 590.3,696.8 595.3,703.5 600.3,711.8 605.3,713.5 604.5,718.5 595.3,718.5 586.9,721.8 580.3,715.2 573.6,710.2" fill="#4e0335"/>
<polygon points="604.5,698.5 617.0,699.3 625.4,706.8 628.7,713.5 632.0,723.5 631.2,730.2 623.7,726.9 618.7,728.5 610.3,726.9 607.0,732.7 604.5,733.5 605.3,726.9 602.0,726.9 604.5,718.5 605.3,713.5" fill="#ff9fb8"/>
<polygon points="543.5,653.4 550.2,643.3 576.9,646.7 590.3,653.4 598.6,661.7 608.7,668.4 607.0,683.4 608.7,693.4 604.5,698.5 605.3,713.5 600.3,711.8 595.3,703.5 590.3,696.8 580.3,694.3 563.6,696.8 555.2,691.8 548.5,688.4 543.5,681.8 541.8,668.4" fill="#ff2a95"/>
<polygon points="504.3,651.7 515.1,650.0 526.8,651.7 538.5,643.3 550.2,643.3 543.5,653.4 541.8,668.4 543.5,681.8 548.5,688.4 543.5,690.1 541.8,696.8 533.5,701.0 523.5,698.5 515.1,698.5 513.4,691.8 506.8,683.4 503.4,676.7 505.1,665.1" fill="#ff2a95"/>
<polygon points="460.0,645.0 470.0,640.0 496.7,640.0 500.1,650.0 504.3,651.7 505.1,665.1 503.4,676.7 500.1,671.7 494.2,669.2 488.4,673.4 485.1,684.3 476.7,683.4 470.0,680.1 463.3,666.7 460.0,665.1" fill="#ff66a3" stroke="#ff66a3" stroke-width="0.6"/>
<path d="M496.7,640.0L500.1,650.0L504.3,651.7L505.1,665.1L503.4,676.7L500.1,671.7L494.2,669.2L488.4,673.4L485.1,684.3L476.7,683.4L470.0,680.1L463.3,666.7L460.0,665.1M460.0,645.0L470.0,640.0" fill="none"/>
<polygon points="496.7,640.0 533.5,640.0 531.8,646.7 526.8,651.7 515.1,650.0 504.3,651.7 500.1,650.0" fill="#4c0373" stroke="#4c0373" stroke-width="0.6"/>
<path d="M533.5,640.0L531.8,646.7L526.8,651.7L515.1,650.0L504.3,651.7L500.1,650.0L496.7,640.0" fill="none"/>
<polygon points="460.0,665.1 463.3,666.7 470.0,680.1 463.3,685.1 460.0,690.1" fill="#8c0380" stroke="#8c0380" stroke-width="0.6"/>
<path d="M460.0,665.1L463.3,666.7L470.0,680.1L463.3,685.1L460.0,690.1" fill="none"/>
<polygon points="550.2,640.0 583.6,640.0 576.9,646.7 550.2,643.3" fill="#8c0380" stroke="#8c0380" stroke-width="0.6"/>
<path d="M583.6,640.0L576.9,646.7L550.2,643.3L550.2,640.0" fill="none"/>
<polygon points="628.7,713.5 632.0,710.2 637.1,711.8 640.4,720.2 643.7,726.9 639.6,731.9 633.7,733.5 623.7,732.7 618.7,728.5 623.7,726.9 631.2,730.2 632.0,723.5" fill="#cc0080"/>
<polygon points="639.6,711.8 648.7,706.8 655.4,710.2 670.5,711.8 673.0,715.2 668.0,723.5 660.4,725.2 645.4,727.7 643.7,726.9 640.4,720.2" fill="#4e0335"/>
<polygon points="641.2,733.5 643.7,726.9 645.4,727.7 660.4,725.2 668.0,723.5 672.1,733.5 672.1,741.9 670.5,740.2 652.1,740.2 651.2,740.2" fill="#8c0380"/>
<polygon points="651.2,740.2 670.5,740.2 670.5,746.9 658.8,751.1 651.2,745.2" fill="#ff2a95"/>
<polygon points="668.0,723.5 673.0,715.2 677.1,716.0 683.8,720.2 683.8,726.9 677.1,735.2 675.5,741.9 672.1,741.9 672.1,733.5" fill="#ff2a95"/>
<polygon points="675.5,741.9 677.1,735.2 683.8,726.9 688.2,726.9 688.2,763.6 683.8,753.6 677.1,743.6" fill="#8c0380" stroke="#8c0380" stroke-width="0.6"/>
<path d="M688.2,763.6L683.8,753.6L677.1,743.6L675.5,741.9L677.1,735.2L683.8,726.9L688.2,726.9" fill="none"/>
<polygon points="645.4,640.0 673.8,640.0 668.8,650.0 670.5,661.7 675.5,668.4 683.8,673.4 688.2,675.1 688.2,698.5 677.1,698.5 675.5,695.1 673.8,683.4 668.8,681.8 657.9,681.8 657.1,670.1 655.4,655.0 648.7,646.7" fill="#8c0380" stroke="#8c0380" stroke-width="0.6"/>
<path d="M673.8,640.0L668.8,650.0L670.5,661.7L675.5,668.4L683.8,673.4L688.2,675.1M688.2,698.5L677.1,698.5L675.5,695.1L673.8,683.4L668.8,681.8L657.9,681.8L657.1,670.1L655.4,655.0L648.7,646.7L645.4,640.0" fill="none"/>
<polygon points="657.9,681.8 668.8,681.8 673.8,683.4 675.5,695.1 673.8,706.8 670.5,711.8 655.4,710.2 651.2,701.8 652.1,693.4" fill="#8c0380"/>
<polygon points="467.0,598.4 508.8,590.0 512.1,611.7 515.5,625.9 505.4,633.4 498.8,638.4 497.1,645.1 502.9,651.8 502.9,676.9 500.4,671.8 494.6,669.3 488.7,673.5 485.4,684.4 477.1,682.7 472.0,680.2 467.0,678.5 460.3,673.5 453.7,665.2 448.7,656.8 442.0,651.8 447.0,651.0 457.0,646.8 467.0,646.8 473.7,646.8 475.4,623.4 473.7,615.1 465.4,603.4 460.3,590.0 467.0,590.0" fill="#ff66a3" stroke="#ff66a3" stroke-width="0.6"/>
<path d="M467.0,590.0L467.0,598.4L508.8,590.0L512.1,611.7L515.5,625.9L505.4,633.4L498.8,638.4L497.1,645.1L502.9,651.8L502.9,676.9L500.4,671.8L494.6,669.3L488.7,673.5L485.4,684.4L477.1,682.7L472.0,680.2L467.0,678.5L460.3,673.5L453.7,665.2L448.7,656.8L442.0,651.8L447.0,651.0L457.0,646.8L467.0,646.8L473.7,646.8L475.4,623.4L473.7,615.1L465.4,603.4L460.3,590.0" fill="none"/>
<polyline points="477.1,608.4 483.7,604.2 493.8,605.0 500.4,603.4 498.8,610.0 492.1,618.4 492.1,628.4 497.1,635.1" fill="none"/>
<polyline points="447.0,651.0 457.0,646.8 467.0,646.8 473.7,646.8 483.7,638.4" fill="none"/>
<polygon points="368.5,640.1 376.8,635.1 378.5,623.4 376.8,611.7 385.2,601.7 393.5,598.4 406.9,600.0 416.9,598.4 425.3,597.5 433.6,601.7 438.6,606.7 442.0,620.1 445.3,628.4 453.7,636.8 463.7,643.4 467.0,646.8 457.0,646.8 447.0,651.0 433.6,651.0 425.3,653.5 416.9,660.2 410.2,656.8 406.9,654.3 400.2,650.1 386.9,646.0 372.7,645.1" fill="#ff66a3"/>
<polygon points="423.6,624.2 428.6,620.9 438.6,623.4 439.5,626.7 433.6,631.8 426.9,629.3" fill="#fff5f1"/>
<polygon points="327.6,640.1 335.1,637.6 340.9,647.6 345.9,653.5 355.1,652.6 363.5,653.5 361.8,658.5 355.1,666.8 348.4,673.5 346.8,676.9 333.4,680.2 324.2,683.5 324.2,677.7 333.4,670.2 331.7,655.1" fill="#8c0380"/>
<polygon points="363.5,653.5 368.5,648.5 372.7,645.1 386.9,646.0 400.2,650.1 406.9,654.3 403.6,656.8 403.6,663.5 401.9,670.2 393.5,678.5 381.8,689.4 376.0,686.0 370.2,680.2 361.8,675.2 348.4,676.0 346.8,676.9 348.4,673.5 355.1,666.8 361.8,658.5" fill="#8c0380"/>
<polygon points="315.9,690.2 323.4,683.5 333.4,680.2 346.8,676.9 348.4,676.0 361.8,675.2 370.2,680.2 376.0,686.0 378.5,696.9 375.2,703.6 363.5,706.9 351.8,711.9 340.1,717.8 339.3,722.8 328.4,724.5 313.4,720.3 310.9,713.6 316.7,711.9 318.4,698.6" fill="#ff9fb8"/>
<polygon points="416.9,660.2 425.3,653.5 433.6,651.0 442.0,651.8 448.7,656.8 453.7,665.2 460.3,673.5 467.0,678.5 472.0,680.2 465.4,681.0 460.3,688.5 458.7,696.9 455.3,705.2 447.0,713.6 442.0,713.6 437.8,706.9 431.1,709.4 428.6,703.6 421.1,701.9 419.4,690.2 415.2,678.5" fill="#8c0380"/>
<polygon points="432.0,596.7 437.0,593.3 450.3,590.0 460.3,590.0 465.4,603.4 473.7,615.1 475.4,623.4 473.7,646.8 467.0,646.8 463.7,643.4 453.7,636.8 445.3,628.4 442.0,620.1 438.6,606.7 433.6,601.7" fill="#8c0380" stroke="#8c0380" stroke-width="0.6"/>
<path d="M460.3,590.0L465.4,603.4L473.7,615.1L475.4,623.4L473.7,646.8L467.0,646.8L463.7,643.4L453.7,636.8L445.3,628.4L442.0,620.1L438.6,606.7L433.6,601.7L432.0,596.7L437.0,593.3L450.3,590.0" fill="none"/>
<polygon points="502.9,651.8 508.8,648.5 517.1,651.0 528.2,650.1 528.2,700.2 515.5,698.6 512.1,690.2 502.9,676.9" fill="#ff2a95" stroke="#ff2a95" stroke-width="0.6"/>
<path d="M528.2,700.2L515.5,698.6L512.1,690.2L502.9,676.9L502.9,651.8L508.8,648.5L517.1,651.0L528.2,650.1" fill="none"/>
<polygon points="508.8,590.0 528.2,590.0 528.2,620.1 517.1,625.9 515.5,625.9 512.1,611.7" fill="#4c0373" stroke="#4c0373" stroke-width="0.6"/>
<path d="M528.2,620.1L517.1,625.9L515.5,625.9L512.1,611.7L508.8,590.0" fill="none"/>
<polygon points="498.8,638.4 505.4,633.4 515.5,625.9 517.1,625.9 528.2,628.4 528.2,650.1 517.1,651.0 508.8,648.5 502.9,651.8 497.1,645.1" fill="#4c0373" stroke="#4c0373" stroke-width="0.6"/>
<path d="M528.2,650.1L517.1,651.0L508.8,648.5L502.9,651.8L497.1,645.1L498.8,638.4L505.4,633.4L515.5,625.9L517.1,625.9L528.2,628.4" fill="none"/>
<polygon points="460.3,590.0 470.4,590.0 467.0,598.4 465.4,603.4" fill="#ff2a95" stroke="#ff2a95" stroke-width="0.6"/>
<path d="M470.4,590.0L467.0,598.4L465.4,603.4L460.3,590.0" fill="none"/>
<polygon points="506.1,440.0 560.3,440.0 562.9,446.7 570.4,450.0 573.7,456.7 568.7,461.7 563.7,456.7 555.3,453.4 545.3,455.9 530.3,453.4 516.9,454.2 508.6,456.7 506.9,448.4" fill="#cc0080" stroke="#cc0080" stroke-width="0.6"/>
<path d="M560.3,440.0L562.9,446.7L570.4,450.0L573.7,456.7L568.7,461.7L563.7,456.7L555.3,453.4L545.3,455.9L530.3,453.4L516.9,454.2L508.6,456.7L506.9,448.4L506.1,440.0" fill="none"/>
<polygon points="508.6,456.7 516.9,454.2 530.3,453.4 545.3,455.9 555.3,453.4 563.7,456.7 568.7,461.7 567.0,465.1 555.3,463.4 542.0,467.6 532.0,476.7 526.9,483.4 520.3,490.1 516.9,496.8 515.2,503.5 510.2,506.0 503.6,501.0 492.7,504.3 493.5,496.8 500.2,488.4 506.9,481.8 513.6,474.2 506.9,473.4 505.2,461.7" fill="#4e0335"/>
<polygon points="520.3,490.1 526.9,483.4 532.0,476.7 542.0,467.6 555.3,463.4 567.0,465.1 567.0,473.4 567.9,483.4 564.5,491.8 562.0,496.8 560.3,503.5 550.3,503.5 538.6,511.8 532.0,520.2 525.3,523.5 523.6,528.5 520.3,532.7 515.2,526.9 515.2,515.2 511.9,506.8 510.2,506.0 515.2,503.5 516.9,496.8" fill="#8c0380"/>
<polygon points="567.0,473.4 568.7,471.7 580.4,475.9 600.4,473.4 602.9,481.8 604.6,490.1 602.9,506.8 608.8,513.5 607.1,520.2 610.5,533.5 612.1,540.2 600.4,536.9 592.1,536.0 585.4,520.2 577.1,506.8 568.7,496.8 564.5,491.8 567.9,483.4" fill="#4c0373"/>
<polygon points="562.0,496.8 568.7,496.8 577.1,506.8 585.4,520.2 592.1,536.0 588.7,543.6 584.6,553.6 577.1,543.6 573.7,533.5 567.0,525.2 560.3,521.8 560.3,511.8 560.3,503.5" fill="#ff2a95"/>
<polygon points="525.3,523.5 532.0,520.2 538.6,511.8 550.3,503.5 560.3,503.5 560.3,511.8 560.3,521.8 567.0,525.2 573.7,533.5 577.1,543.6 584.6,553.6 582.1,563.6 573.7,566.9 565.4,572.0 560.3,578.6 548.7,580.3 542.0,573.6 538.6,563.6 533.6,553.6 528.6,543.6 523.6,535.2 523.6,528.5" fill="#cc0080"/>
<polygon points="592.1,536.0 600.4,536.9 612.1,540.2 613.8,546.9 612.1,556.9 605.4,561.9 597.1,568.6 584.6,553.6 588.7,543.6" fill="#4c0373"/>
<polygon points="520.3,532.7 523.6,535.2 528.6,543.6 533.6,553.6 538.6,563.6 542.0,573.6 548.7,580.3 549.5,590.3 538.6,595.3 526.9,599.7 510.2,599.7 506.9,587.0 501.9,573.6 503.6,566.9 510.2,553.6 515.2,541.9" fill="#4c0373" stroke="#4c0373" stroke-width="0.6"/>
<path d="M510.2,599.7L506.9,587.0L501.9,573.6L503.6,566.9L510.2,553.6L515.2,541.9L520.3,532.7L523.6,535.2L528.6,543.6L533.6,553.6L538.6,563.6L542.0,573.6L548.7,580.3L549.5,590.3L538.6,595.3L526.9,599.7" fill="none"/>
<polygon points="484.3,558.6 488.5,551.9 500.2,544.4 516.9,540.2 520.3,532.7 515.2,541.9 510.2,553.6 503.6,566.9 500.2,573.6 493.5,572.0 485.2,575.3" fill="#8c0380"/>
<polygon points="453.4,506.8 454.3,495.1 455.1,486.8 450.1,478.4 451.8,468.4 455.1,466.7 458.5,473.4 461.8,481.8 471.8,484.3 483.5,481.8 496.9,477.6 506.9,473.4 513.6,474.2 506.9,481.8 500.2,488.4 493.5,496.8 492.7,504.3 488.5,510.2 483.5,511.8 481.8,520.2 473.5,525.2 463.5,525.2 461.8,518.5 464.3,515.2 458.5,513.5 456.8,506.8" fill="#ff2a95"/>
<polygon points="483.5,511.8 488.5,510.2 492.7,504.3 503.6,501.0 510.2,506.0 511.9,506.8 515.2,515.2 515.2,526.9 508.6,525.2 500.2,528.5 493.5,532.7 486.9,536.9 485.2,528.5 488.5,520.2" fill="#ff66a3"/>
<polygon points="435.9,511.8 443.4,508.5 453.4,506.8 456.8,506.8 458.5,513.5 464.3,515.2 461.8,518.5 463.5,525.2 460.1,535.2 458.5,543.6 450.1,553.6 448.4,563.6 446.8,573.6 433.4,582.0 426.7,582.0 433.4,572.0 431.7,568.6 435.9,556.9 434.2,546.9 435.1,533.5 431.7,523.5" fill="#ff66a3"/>
<polygon points="463.5,525.2 473.5,525.2 481.8,520.2 483.5,511.8 488.5,520.2 485.2,528.5 486.9,536.9 493.5,532.7 500.2,528.5 508.6,525.2 515.2,526.9 520.3,532.7 516.9,540.2 500.2,544.4 488.5,551.9 484.3,558.6 485.2,575.3 478.5,578.6 471.8,588.7 466.8,599.7 431.7,599.7 425.1,587.0 426.7,582.0 433.4,582.0 446.8,573.6 448.4,563.6 450.1,553.6 458.5,543.6 460.1,535.2" fill="#ff2a95" stroke="#ff2a95" stroke-width="0.6"/>
<path d="M431.7,599.7L425.1,587.0L426.7,582.0L433.4,582.0L446.8,573.6L448.4,563.6L450.1,553.6L458.5,543.6L460.1,535.2L463.5,525.2L473.5,525.2L481.8,520.2L483.5,511.8L488.5,520.2L485.2,528.5L486.9,536.9L493.5,532.7L500.2,528.5L508.6,525.2L515.2,526.9L520.3,532.7L516.9,540.2L500.2,544.4L488.5,551.9L484.3,558.6L485.2,575.3L478.5,578.6L471.8,588.7L466.8,599.7" fill="none"/>
<polygon points="466.8,599.7 471.8,588.7 478.5,578.6 485.2,575.3 493.5,572.0 500.2,573.6 501.9,573.6 506.9,587.0 510.2,599.7" fill="#ff66a3" stroke="#ff66a3" stroke-width="0.6"/>
<path d="M466.8,599.7L471.8,588.7L478.5,578.6L485.2,575.3L493.5,572.0L500.2,573.6L501.9,573.6L506.9,587.0L510.2,599.7" fill="none"/>
<polygon points="431.7,597.0 436.7,593.7 450.1,590.3 460.1,590.3 463.5,599.7 431.7,599.7" fill="#8c0380" stroke="#8c0380" stroke-width="0.6"/>
<path d="M431.7,599.7L431.7,597.0L436.7,593.7L450.1,590.3L460.1,590.3L463.5,599.7" fill="none"/>
<polygon points="602.9,506.8 604.6,490.1 615.5,488.4 628.2,490.1 628.2,510.2 622.1,513.5 613.8,516.8 610.5,513.5 608.8,513.5" fill="#8c0380" stroke="#8c0380" stroke-width="0.6"/>
<path d="M628.2,510.2L622.1,513.5L613.8,516.8L610.5,513.5L608.8,513.5L602.9,506.8L604.6,490.1L615.5,488.4L628.2,490.1" fill="none"/>
<polygon points="607.1,520.2 608.8,513.5 610.5,513.5 613.8,516.8 622.1,513.5 628.2,510.2 628.2,543.6 620.5,546.9 613.8,546.9 612.1,540.2 610.5,533.5" fill="#8c0380" stroke="#8c0380" stroke-width="0.6"/>
<path d="M628.2,543.6L620.5,546.9L613.8,546.9L612.1,540.2L610.5,533.5L607.1,520.2L608.8,513.5L610.5,513.5L613.8,516.8L622.1,513.5L628.2,510.2" fill="none"/>
<polygon points="587.1,440.0 628.2,440.0 628.2,450.0 620.5,451.7 608.8,449.2 592.1,446.7" fill="#4e0335" stroke="#4e0335" stroke-width="0.6"/>
<path d="M628.2,450.0L620.5,451.7L608.8,449.2L592.1,446.7L587.1,440.0" fill="none"/>
<polygon points="570.4,450.0 577.1,458.4 580.4,475.9 600.4,473.4 602.9,481.8 605.4,473.4 608.8,461.7 608.8,449.2 592.1,446.7 587.1,440.0 583.7,440.0 578.7,448.4" fill="#4e0335" stroke="#4e0335" stroke-width="0.6"/>
<path d="M583.7,440.0L578.7,448.4L570.4,450.0L577.1,458.4L580.4,475.9L600.4,473.4L602.9,481.8L605.4,473.4L608.8,461.7L608.8,449.2L592.1,446.7L587.1,440.0" fill="none"/>
<polygon points="602.9,481.8 605.4,473.4 608.8,461.7 617.1,458.4 628.2,455.0 628.2,490.1 615.5,488.4 604.6,490.1" fill="#4e0335" stroke="#4e0335" stroke-width="0.6"/>
<path d="M628.2,490.1L615.5,488.4L604.6,490.1L602.9,481.8L605.4,473.4L608.8,461.7L617.1,458.4L628.2,455.0" fill="none"/>
<polygon points="560.3,440.0 583.7,440.0 578.7,448.4 570.4,450.0 562.9,446.7" fill="#8c0380" stroke="#8c0380" stroke-width="0.6"/>
<path d="M583.7,440.0L578.7,448.4L570.4,450.0L562.9,446.7L560.3,440.0" fill="none"/>
<polygon points="560.3,578.6 565.4,572.0 573.7,566.9 582.1,563.6 584.6,553.6 597.1,568.6 605.4,561.9 612.1,556.9 613.8,546.9 620.5,546.9 628.2,543.6 628.2,577.0 617.1,573.6 608.8,578.6 605.4,590.3 607.1,599.7 570.4,599.7 567.0,587.0" fill="#8c0380" stroke="#8c0380" stroke-width="0.6"/>
<path d="M628.2,577.0L617.1,573.6L608.8,578.6L605.4,590.3L607.1,599.7M570.4,599.7L567.0,587.0L560.3,578.6L565.4,572.0L573.7,566.9L582.1,563.6L584.6,553.6L597.1,568.6L605.4,561.9L612.1,556.9L613.8,546.9L620.5,546.9L628.2,543.6" fill="none"/>
<polygon points="538.6,595.3 549.5,590.3 548.7,580.3 560.3,578.6 567.0,587.0 570.4,599.7 526.9,599.7" fill="#ff2a95" stroke="#ff2a95" stroke-width="0.6"/>
<path d="M526.9,599.7L538.6,595.3L549.5,590.3L548.7,580.3L560.3,578.6L567.0,587.0L570.4,599.7" fill="none"/>
<polygon points="612.9,300.0 648.2,300.0 648.2,358.5 628.8,365.1 612.1,368.5 597.1,373.5 595.4,366.8 598.7,355.1 603.7,341.8 608.7,328.4 610.4,316.7 609.6,306.7" fill="#cc0080" stroke="#cc0080" stroke-width="0.6"/>
<path d="M648.2,358.5L628.8,365.1L612.1,368.5L597.1,373.5L595.4,366.8L598.7,355.1L603.7,341.8L608.7,328.4L610.4,316.7L609.6,306.7L612.9,300.0" fill="none"/>
<polygon points="597.1,373.5 612.1,368.5 628.8,365.1 648.2,358.5 648.2,438.6 642.1,438.6 628.8,435.3 633.8,423.6 635.5,416.9 632.1,406.9 625.4,400.2 615.4,393.5 607.1,390.2 603.7,386.9 600.4,380.2" fill="#8c0380" stroke="#8c0380" stroke-width="0.6"/>
<path d="M648.2,438.6L642.1,438.6L628.8,435.3L633.8,423.6L635.5,416.9L632.1,406.9L625.4,400.2L615.4,393.5L607.1,390.2L603.7,386.9L600.4,380.2L597.1,373.5L612.1,368.5L628.8,365.1L648.2,358.5" fill="none"/>
<polygon points="541.9,386.9 546.9,378.5 550.3,371.8 553.6,369.3 563.6,371.8 567.0,375.2 573.7,377.7 583.7,372.7 587.0,374.3 585.4,383.5 580.3,390.2 570.3,395.2 568.7,403.6 567.0,410.2 560.3,416.1 552.0,406.9 541.9,398.5" fill="#4c0373"/>
<polygon points="527.7,406.9 533.6,400.2 538.6,396.9 541.9,398.5 552.0,406.9 560.3,416.1 558.6,418.6 557.0,423.6 548.6,425.3 540.3,421.9 533.6,418.6 526.9,411.9" fill="#4e0335"/>
<polygon points="587.0,374.3 597.1,373.5 598.7,383.5 595.4,390.2 593.7,400.2 590.4,408.6 583.7,415.2 578.7,416.9 567.0,414.4 567.0,410.2 568.7,403.6 570.3,395.2 580.3,390.2 585.4,383.5" fill="#4e0335"/>
<polygon points="598.7,383.5 600.4,380.2 603.7,386.9 604.6,400.2 607.1,408.6 610.4,413.6 605.4,420.3 602.1,423.6 593.7,425.3 590.4,432.0 587.0,428.6 585.4,421.9 583.7,415.2 590.4,408.6 593.7,400.2 595.4,390.2" fill="#4e0335"/>
<polygon points="560.3,416.1 567.0,414.4 578.7,416.9 583.7,415.2 585.4,421.9 587.0,428.6 587.0,435.3 580.3,437.0 570.3,443.6 562.0,447.0 559.5,438.6 558.6,430.3 557.0,423.6 558.6,418.6" fill="#ff2a95"/>
<polygon points="506.0,440.3 510.2,433.6 516.9,423.6 521.9,415.2 526.1,411.9 527.7,406.9 526.9,411.9 533.6,418.6 540.3,421.9 548.6,425.3 557.0,423.6 558.6,430.3 559.5,438.6 562.0,447.0 562.0,452.0 550.3,453.7 536.9,455.3 520.2,453.7 506.9,456.2 506.0,450.3" fill="#cc0080"/>
<polygon points="562.0,447.0 570.3,443.6 580.3,437.0 587.0,435.3 587.0,442.0 580.3,447.0 573.7,450.3 563.6,453.7 562.0,452.0" fill="#8c0380"/>
<polygon points="603.7,386.9 607.1,390.2 615.4,393.5 625.4,400.2 632.1,406.9 635.5,416.9 633.8,423.6 628.8,430.3 623.8,435.3 617.1,433.6 610.4,426.9 608.7,420.3 613.8,415.2 615.4,410.2 610.4,413.6 607.1,408.6 604.6,400.2" fill="#cc0080"/>
<polygon points="587.0,435.3 587.0,428.6 590.4,432.0 593.7,425.3 602.1,423.6 605.4,420.3 608.7,420.3 610.4,426.9 617.1,433.6 623.8,435.3 622.1,442.0 618.8,447.0 603.7,450.3 590.4,447.0 587.0,442.0" fill="#4e0335"/>
<polygon points="623.8,435.3 628.8,435.3 642.1,438.6 643.8,447.0 637.1,450.3 630.5,445.3 625.4,448.7 622.1,442.0" fill="#ff2a95"/>
<polygon points="618.8,447.0 622.1,442.0 625.4,448.7 630.5,445.3 637.1,450.3 643.8,447.0 648.2,438.6 648.2,459.7 603.7,459.7 603.7,450.3" fill="#4e0335" stroke="#4e0335" stroke-width="0.6"/>
<path d="M603.7,459.7L603.7,450.3L618.8,447.0L622.1,442.0L625.4,448.7L630.5,445.3L637.1,450.3L643.8,447.0L648.2,438.6" fill="none"/>
<polygon points="433.4,455.3 436.7,447.0 452.6,435.3 467.6,447.0 465.9,454.5" fill="#ff2a95"/>
<polygon points="611.3,390.0 668.1,390.0 671.5,400.0 676.5,415.1 678.2,420.1 671.5,423.4 663.1,436.8 648.1,436.8 641.4,440.1 629.7,435.1 626.4,431.8 633.1,423.4 633.1,415.1 624.7,408.4 618.0,410.0 614.7,400.0" fill="#8c0380" stroke="#8c0380" stroke-width="0.6"/>
<path d="M668.1,390.0L671.5,400.0L676.5,415.1L678.2,420.1L671.5,423.4L663.1,436.8L648.1,436.8L641.4,440.1L629.7,435.1L626.4,431.8L633.1,423.4L633.1,415.1L624.7,408.4L618.0,410.0L614.7,400.0L611.3,390.0" fill="none"/>
<polygon points="608.0,396.7 614.7,400.0 618.0,410.0 624.7,408.4 633.1,415.1 633.1,423.4 626.4,431.8 618.0,435.1 608.0,431.8" fill="#cc0080" stroke="#cc0080" stroke-width="0.6"/>
<path d="M608.0,396.7L614.7,400.0L618.0,410.0L624.7,408.4L633.1,415.1L633.1,423.4L626.4,431.8L618.0,435.1L608.0,431.8" fill="none"/>
<polygon points="649.8,456.8 663.1,436.8 671.5,423.4 678.2,420.1 691.5,418.4 708.2,408.4 721.6,410.0 734.9,410.0 736.6,415.1 734.1,421.7 740.0,428.4 750.0,431.8 749.1,440.1 751.6,448.5 746.6,456.8 745.0,461.8 740.0,468.5 733.3,467.7 723.2,463.5 716.6,460.2 711.6,466.8 706.5,468.5 706.5,476.9 698.2,478.5 691.5,478.5 683.2,475.2 673.1,481.9 674.8,486.9 658.1,490.2 654.8,476.9" fill="#8c0380"/>
<polygon points="668.1,390.0 698.2,390.0 708.2,408.4 691.5,418.4 678.2,420.1 676.5,415.1 671.5,400.0" fill="#cc0080" stroke="#cc0080" stroke-width="0.6"/>
<path d="M698.2,390.0L708.2,408.4L691.5,418.4L678.2,420.1L676.5,415.1L671.5,400.0L668.1,390.0" fill="none"/>
<polygon points="698.2,390.0 706.5,390.0 716.6,405.0 718.2,408.4 708.2,408.4" fill="#ff66a3" stroke="#ff66a3" stroke-width="0.6"/>
<path d="M706.5,390.0L716.6,405.0L718.2,408.4L708.2,408.4L698.2,390.0" fill="none"/>
<polygon points="706.5,390.0 753.3,390.0 748.3,398.4 741.6,405.0 734.9,410.0 721.6,410.0 718.2,408.4 716.6,405.0" fill="#8c0380" stroke="#8c0380" stroke-width="0.6"/>
<path d="M753.3,390.0L748.3,398.4L741.6,405.0L734.9,410.0L721.6,410.0L718.2,408.4L716.6,405.0L706.5,390.0" fill="none"/>
<polygon points="753.3,390.0 773.4,390.0 775.0,400.0 773.4,408.4 768.3,415.1 765.0,421.7 758.3,416.7 750.0,413.4 740.0,411.7 734.9,410.0 741.6,405.0 748.3,398.4" fill="#cc0080" stroke="#cc0080" stroke-width="0.6"/>
<path d="M773.4,390.0L775.0,400.0L773.4,408.4L768.3,415.1L765.0,421.7L758.3,416.7L750.0,413.4L740.0,411.7L734.9,410.0L741.6,405.0L748.3,398.4L753.3,390.0" fill="none"/>
<polygon points="734.9,416.7 740.0,411.7 750.0,413.4 758.3,416.7 765.0,421.7 768.3,415.1 769.2,431.8 770.0,445.1 773.4,455.1 761.7,458.5 755.0,463.5 748.3,460.2 746.6,456.8 751.6,448.5 749.1,440.1 750.0,431.8 740.0,428.4 734.1,421.7" fill="#4c0373"/>
<polygon points="773.4,408.4 775.0,400.0 785.1,401.7 800.1,406.7 803.4,413.4 796.7,426.7 791.7,436.8 791.7,450.1 788.4,458.5 785.1,460.2 776.7,456.8 773.4,455.1 770.0,445.1 769.2,431.8 768.3,415.1" fill="#cc0080"/>
<polygon points="773.4,390.0 801.8,390.0 800.1,398.4 800.1,406.7 785.1,401.7 775.0,400.0" fill="#ff9fb8" stroke="#ff9fb8" stroke-width="0.6"/>
<path d="M801.8,390.0L800.1,398.4L800.1,406.7L785.1,401.7L775.0,400.0L773.4,390.0" fill="none"/>
<polygon points="803.4,413.4 808.4,408.4 816.8,416.7 831.8,426.7 835.2,430.1 833.5,441.8 825.1,446.8 808.4,448.5 793.4,451.8 791.7,450.1 791.7,436.8 796.7,426.7" fill="#ff9fb8"/>
<polygon points="791.7,450.1 793.4,451.8 808.4,448.5 823.5,447.6 821.8,456.8 821.8,471.8 816.8,473.5 808.4,478.5 791.7,481.0 788.4,470.2 788.4,458.5" fill="#cc0080"/>
<polygon points="775.0,460.2 776.7,456.8 785.1,460.2 788.4,458.5 788.4,470.2 791.7,481.0 808.4,478.5 816.8,473.5 821.8,471.8 825.1,480.2 836.2,485.2 828.5,490.2 816.8,495.2 801.8,496.9 791.7,493.6 785.1,486.9 781.7,476.9 778.4,468.5" fill="#4c0373"/>
<polygon points="755.0,463.5 761.7,458.5 773.4,455.1 775.0,460.2 778.4,468.5 773.4,471.8 768.3,470.2 763.3,471.8 760.0,475.2" fill="#8c0380"/>
<polygon points="673.1,481.9 683.2,475.2 691.5,478.5 698.2,478.5 706.5,476.9 706.5,468.5 711.6,466.8 716.6,460.2 723.2,463.5 733.3,467.7 740.0,468.5 736.6,476.9 731.6,483.5 726.6,493.6 723.2,496.9 714.9,498.6 708.2,493.6 696.5,488.5 684.8,486.9 674.8,486.9" fill="#cc0080"/>
<polygon points="740.0,468.5 745.0,461.8 746.6,456.8 748.3,460.2 755.0,463.5 760.0,475.2 766.7,485.2 770.0,491.9 765.0,498.6 756.7,501.9 746.6,501.9 741.6,493.6 736.6,494.4 724.9,500.2 723.2,496.9 726.6,493.6 731.6,483.5 736.6,476.9" fill="#cc0080"/>
<polygon points="760.0,475.2 763.3,471.8 768.3,470.2 773.4,471.8 778.4,468.5 781.7,476.9 785.1,486.9 791.7,493.6 798.4,498.6 796.7,505.2 788.4,503.6 786.7,513.6 791.7,523.6 793.4,527.0 783.4,527.0 766.7,523.6 758.3,522.0 751.6,518.6 746.6,513.6 741.6,505.2 738.3,495.2 741.6,493.6 746.6,501.9 756.7,501.9 765.0,498.6 770.0,491.9 766.7,485.2" fill="#4e0335"/>
<polygon points="724.9,500.2 736.6,494.4 738.3,495.2 741.6,505.2 746.6,513.6 751.6,518.6 758.3,522.0 766.7,523.6 783.4,527.0 793.4,527.0 790.1,533.6 791.7,540.3 783.4,542.0 771.7,547.0 758.3,540.3 745.0,537.0 736.6,532.0 736.6,522.0 731.6,511.9" fill="#4e0335"/>
<polygon points="638.1,493.6 658.1,490.2 674.8,486.9 684.8,486.9 696.5,488.5 708.2,493.6 714.9,498.6 723.2,496.9 724.9,500.2 731.6,511.9 736.6,522.0 736.6,532.0 745.0,537.0 741.6,549.7 658.1,549.7 649.8,533.6 644.7,516.9 636.4,503.6" fill="#cc0080" stroke="#cc0080" stroke-width="0.6"/>
<path d="M658.1,549.7L649.8,533.6L644.7,516.9L636.4,503.6L638.1,493.6L658.1,490.2L674.8,486.9L684.8,486.9L696.5,488.5L708.2,493.6L714.9,498.6L723.2,496.9L724.9,500.2L731.6,511.9L736.6,522.0L736.6,532.0L745.0,537.0L741.6,549.7" fill="none"/>
<polygon points="608.0,483.5 616.4,468.5 626.4,460.2 638.1,455.1 648.1,456.8 649.8,456.8 654.8,476.9 658.1,490.2 638.1,493.6 624.7,490.2 608.0,488.5" fill="#4e0335" stroke="#4e0335" stroke-width="0.6"/>
<path d="M608.0,483.5L616.4,468.5L626.4,460.2L638.1,455.1L648.1,456.8L649.8,456.8L654.8,476.9L658.1,490.2L638.1,493.6L624.7,490.2L608.0,488.5" fill="none"/>
<polygon points="608.0,433.4 618.0,435.1 624.7,440.1 628.0,438.4 629.7,435.1 641.4,440.1 643.1,448.5 648.1,456.8 638.1,455.1 633.1,448.5 626.4,460.2 616.4,468.5 608.0,470.2" fill="#4e0335" stroke="#4e0335" stroke-width="0.6"/>
<path d="M608.0,433.4L618.0,435.1L624.7,440.1L628.0,438.4L629.7,435.1L641.4,440.1L643.1,448.5L648.1,456.8L638.1,455.1L633.1,448.5L626.4,460.2L616.4,468.5L608.0,470.2" fill="none"/>
<polygon points="629.7,436.8 641.4,439.3 643.9,448.5 636.4,447.6 631.4,443.4" fill="#ff2a95"/>
<polygon points="643.9,438.4 661.4,435.9 658.1,443.4 651.4,448.5 648.1,456.8 643.1,453.5 643.9,448.5" fill="#4e0335"/>
<polygon points="608.8,488.5 624.7,490.2 638.1,493.6 636.4,503.6 628.0,506.9 618.0,510.3 610.0,513.6" fill="#8c0380"/>
<polygon points="610.0,513.6 618.0,510.3 628.0,506.9 636.4,503.6 644.7,516.9 649.8,533.6 658.1,549.7 613.0,549.7 612.2,533.6" fill="#8c0380" stroke="#8c0380" stroke-width="0.6"/>
<path d="M613.0,549.7L612.2,533.6L610.0,513.6L618.0,510.3L628.0,506.9L636.4,503.6L644.7,516.9L649.8,533.6L658.1,549.7" fill="none"/>
<polygon points="563.5,573.4 571.8,568.4 583.5,563.3 586.9,560.0 678.7,560.0 680.4,570.0 667.0,573.4 655.3,576.7 648.7,581.7 638.6,576.7 628.6,575.0 620.3,578.4 606.9,576.7 606.9,586.7 605.2,593.4 605.2,601.8 600.2,598.4 593.5,591.7 590.2,586.7 583.5,586.7 575.2,585.1 570.2,581.7" fill="#8c0380" stroke="#8c0380" stroke-width="0.6"/>
<path d="M678.7,560.0L680.4,570.0L667.0,573.4L655.3,576.7L648.7,581.7L638.6,576.7L628.6,575.0L620.3,578.4L606.9,576.7L606.9,586.7L605.2,593.4L605.2,601.8L600.2,598.4L593.5,591.7L590.2,586.7L583.5,586.7L575.2,585.1L570.2,581.7L563.5,573.4L571.8,568.4L583.5,563.3L586.9,560.0" fill="none"/>
<polygon points="501.7,570.0 508.4,560.0 535.1,560.0 538.4,570.0 543.4,581.7 548.4,590.1 541.8,595.1 533.4,600.1 531.7,605.1 521.7,618.5 516.7,625.1 510.0,610.1 508.4,596.7 505.0,581.7" fill="#4c0373" stroke="#4c0373" stroke-width="0.6"/>
<path d="M535.1,560.0L538.4,570.0L543.4,581.7L548.4,590.1L541.8,595.1L533.4,600.1L531.7,605.1L521.7,618.5L516.7,625.1L510.0,610.1L508.4,596.7L505.0,581.7L501.7,570.0L508.4,560.0" fill="none"/>
<polygon points="500.0,581.7 505.0,581.7 508.4,596.7 510.0,610.1 516.7,625.1 510.0,631.8 500.0,633.5" fill="#ff66a3" stroke="#ff66a3" stroke-width="0.6"/>
<path d="M500.0,581.7L505.0,581.7L508.4,596.7L510.0,610.1L516.7,625.1L510.0,631.8L500.0,633.5" fill="none"/>
<polygon points="500.0,636.8 510.0,631.8 516.7,625.1 525.1,628.5 528.4,635.2 533.4,641.8 525.1,650.2 516.7,648.5 505.0,650.2 500.0,646.9" fill="#4c0373" stroke="#4c0373" stroke-width="0.6"/>
<path d="M500.0,636.8L510.0,631.8L516.7,625.1L525.1,628.5L528.4,635.2L533.4,641.8L525.1,650.2L516.7,648.5L505.0,650.2L500.0,646.9" fill="none"/>
<polygon points="548.4,578.4 563.5,576.7 568.5,580.0 570.2,588.4 566.8,598.4 563.5,605.1 556.8,608.4 551.8,606.8 541.8,605.1 533.4,600.1 541.8,595.1 548.4,590.1 543.4,581.7" fill="#ff2a95"/>
<polygon points="521.7,618.5 531.7,605.1 533.4,600.1 541.8,605.1 551.8,606.8 556.8,608.4 563.5,615.1 563.5,618.5 555.1,623.5 548.4,631.8 550.1,641.8 541.8,643.5 533.4,641.8 528.4,635.2 525.1,628.5" fill="#ff66a3"/>
<polygon points="548.4,631.8 555.1,623.5 563.5,618.5 571.8,623.5 578.5,630.2 583.5,636.8 578.5,643.5 568.5,645.2 556.8,645.2 550.1,641.8" fill="#8c0380"/>
<polygon points="563.5,605.1 566.8,598.4 570.2,588.4 575.2,585.1 583.5,586.7 590.2,586.7 593.5,591.7 600.2,598.4 608.6,600.1 608.6,610.1 606.9,623.5 595.2,626.8 581.8,631.8 578.5,630.2 571.8,623.5 563.5,618.5 563.5,615.1 556.8,608.4" fill="#cc0080"/>
<polygon points="606.9,576.7 620.3,578.4 628.6,575.0 638.6,576.7 648.7,581.7 653.7,593.4 658.7,608.4 650.3,615.1 643.6,620.1 633.6,610.1 623.6,603.4 608.6,600.1 605.2,601.8 605.2,593.4 606.9,586.7" fill="#cc0080"/>
<polygon points="581.8,631.8 595.2,626.8 606.9,623.5 608.6,610.1 608.6,600.1 623.6,603.4 633.6,610.1 643.6,620.1 640.3,625.1 643.6,635.2 630.3,638.5 616.9,643.5 610.2,651.9 608.6,660.2 610.2,666.9 600.2,660.2 593.5,653.5 583.5,645.2 578.5,643.5 583.5,636.8 578.5,630.2" fill="#cc0080"/>
<polyline points="608.6,660.2 613.6,646.9 616.9,643.5 630.3,638.5 643.6,635.2" fill="none"/>
<polygon points="613.8,546.7 618.0,540.0 656.4,540.0 659.8,550.0 661.4,560.0 654.8,573.4 649.8,581.8 638.1,578.4 628.0,573.4 618.0,580.1 611.3,570.1 608.0,571.7 608.0,561.9 612.2,556.7" fill="#8c0380" stroke="#8c0380" stroke-width="0.6"/>
<path d="M656.4,540.0L659.8,550.0L661.4,560.0L654.8,573.4L649.8,581.8L638.1,578.4L628.0,573.4L618.0,580.1L611.3,570.1L608.0,571.7M608.0,561.9L612.2,556.7L613.8,546.7L618.0,540.0" fill="none"/>
<polyline points="614.7,546.7 628.0,553.4 641.4,558.4 659.8,561.7" fill="none"/>
<polygon points="649.8,581.8 654.8,573.4 663.1,570.1 674.8,570.9 679.8,566.7 694.9,564.2 701.5,562.5 714.9,565.1 719.9,568.4 718.2,575.1 714.9,580.1 718.2,590.1 714.9,596.8 708.2,600.1 698.2,603.5 689.8,606.8 686.5,607.6 678.2,609.3 666.5,610.2 659.8,606.8 656.4,596.8 653.1,588.4" fill="#4c0373"/>
<polyline points="679.8,566.7 681.5,579.3 689.8,582.6 686.5,595.1 686.5,607.6" fill="none"/>
<polygon points="714.9,580.1 724.9,580.1 728.3,583.4 728.3,595.1 724.9,603.5 716.6,601.8 714.9,596.8 718.2,590.1" fill="#4c0373"/>
<polygon points="718.2,575.1 719.9,568.4 721.6,565.1 728.3,563.4 728.3,580.1 724.9,580.1 714.9,580.1" fill="#8c0380"/>
<polygon points="728.3,563.4 731.6,558.4 740.0,558.4 738.3,570.1 740.0,581.8 728.3,586.8 728.3,580.1" fill="#8c0380"/>
<polygon points="728.3,586.8 740.0,581.8 741.6,586.8 741.6,595.1 728.3,595.1" fill="#4c0373"/>
<polygon points="734.9,555.0 745.0,543.3 750.0,540.0 766.7,540.0 765.0,548.4 758.3,558.4 756.7,568.4 761.7,576.7 751.6,578.4 741.6,571.7 740.0,558.4 731.6,558.4" fill="#8c0380" stroke="#8c0380" stroke-width="0.6"/>
<path d="M766.7,540.0L765.0,548.4L758.3,558.4L756.7,568.4L761.7,576.7L751.6,578.4L741.6,571.7L740.0,558.4L731.6,558.4L734.9,555.0L745.0,543.3L750.0,540.0" fill="none"/>
<polygon points="741.6,571.7 751.6,578.4 761.7,576.7 800.1,580.1 801.8,581.8 780.0,588.4 776.7,596.8 773.4,600.1 765.0,598.5 760.0,599.3 755.0,590.1 746.6,581.8" fill="#8c0380"/>
<polygon points="741.6,586.8 741.6,571.7 746.6,581.8 755.0,590.1 760.0,599.3 756.7,606.8 755.0,611.8 741.6,605.1 736.6,606.8 728.3,595.1 741.6,595.1" fill="#8c0380"/>
<polygon points="728.3,618.5 736.6,606.8 741.6,605.1 755.0,611.8 758.3,616.8 751.6,620.2 743.3,626.9 736.6,631.0 731.6,630.2" fill="#4c0373"/>
<polygon points="780.0,588.4 801.8,581.8 803.4,570.1 806.8,566.7 816.8,566.7 820.1,578.4 825.1,588.4 831.8,596.8 820.1,601.8 806.8,603.5 801.8,598.5 796.7,600.1 780.0,600.1 781.7,593.4" fill="#8c0380"/>
<polygon points="736.6,631.0 743.3,626.9 751.6,620.2 758.3,616.8 766.7,618.5 768.3,623.5 783.4,630.2 790.1,635.2 781.7,646.9 776.7,655.2 775.0,660.3 765.0,658.6 755.0,653.6 745.0,650.2 741.6,648.6 738.3,640.2 731.6,630.2" fill="#8c0380"/>
<polygon points="713.2,630.2 731.6,630.2 738.3,640.2 741.6,648.6 740.0,650.2 733.3,653.6 724.9,655.2 718.2,655.2 711.6,646.9" fill="#8c0380"/>
<polygon points="694.9,670.3 701.5,656.9 711.6,646.9 718.2,655.2 724.9,655.2 733.3,653.6 740.0,650.2 745.0,650.2 755.0,653.6 765.0,658.6 775.0,660.3 780.0,663.6 780.0,672.0 770.0,678.6 758.3,688.7 753.3,678.6 748.3,673.6 740.0,677.0 728.3,683.6 718.2,687.0 706.5,685.3 698.2,678.6" fill="#8c0380"/>
<polygon points="639.7,625.2 648.1,618.5 659.8,610.2 666.5,620.2 671.5,628.5 678.2,632.7 673.1,640.2 671.5,646.9 668.1,655.2 656.4,655.2 653.1,643.6 646.4,635.2" fill="#8c0380"/>
<polygon points="656.4,655.2 668.1,655.2 669.8,663.6 678.2,672.0 693.2,672.0 694.9,670.3 698.2,678.6 704.9,687.0 703.2,699.7 676.5,699.7 671.5,687.0 658.1,682.0 656.4,666.9" fill="#8c0380" stroke="#8c0380" stroke-width="0.6"/>
<path d="M676.5,699.7L671.5,687.0L658.1,682.0L656.4,666.9L656.4,655.2L668.1,655.2L669.8,663.6L678.2,672.0L693.2,672.0L694.9,670.3L698.2,678.6L704.9,687.0L703.2,699.7" fill="none"/>
<polygon points="653.1,699.7 656.4,687.0 658.1,682.0 671.5,687.0 676.5,699.7" fill="#8c0380" stroke="#8c0380" stroke-width="0.6"/>
<path d="M653.1,699.7L656.4,687.0L658.1,682.0L671.5,687.0L676.5,699.7" fill="none"/>
<polygon points="818.5,565.1 831.8,553.4 836.2,551.7 836.2,585.1 825.1,588.4 820.1,578.4" fill="#4e0335" stroke="#4e0335" stroke-width="0.6"/>
<path d="M836.2,585.1L825.1,588.4L820.1,578.4L818.5,565.1L831.8,553.4L836.2,551.7" fill="none"/>
<polygon points="813.4,610.2 823.5,603.5 836.2,598.5 836.2,615.2 826.8,618.5 816.8,620.2" fill="#4e0335" stroke="#4e0335" stroke-width="0.6"/>
<path d="M836.2,615.2L826.8,618.5L816.8,620.2L813.4,610.2L823.5,603.5L836.2,598.5" fill="none"/>
<polygon points="810.9,626.9 816.8,620.2 826.8,618.5 836.2,615.2 836.2,643.6 830.1,645.2 825.1,633.5 815.1,633.5" fill="#ff2a95" stroke="#ff2a95" stroke-width="0.6"/>
<path d="M836.2,643.6L830.1,645.2L825.1,633.5L815.1,633.5L810.9,626.9L816.8,620.2L826.8,618.5L836.2,615.2" fill="none"/>
<polygon points="746.6,540.0 791.7,540.0 783.4,543.3 771.7,546.7 766.7,540.0" fill="#4e0335" stroke="#4e0335" stroke-width="0.6"/>
<path d="M791.7,540.0L783.4,543.3L771.7,546.7L766.7,540.0" fill="none"/>
<polyline points="659.8,610.2 666.5,610.2 678.2,609.3 686.5,607.6 698.2,603.5 708.2,600.1 714.9,596.8" fill="none"/>
<polyline points="689.8,631.9 694.9,618.5 708.2,606.8 714.9,596.8" fill="none"/>
<polyline points="678.2,632.7 689.8,631.9 701.5,633.5 713.2,630.2 714.9,615.2 721.6,611.8 728.3,618.5" fill="none"/>
<polyline points="716.6,601.8 721.6,611.8" fill="none"/>
<polyline points="724.9,603.5 733.3,610.2 736.6,606.8" fill="none"/>
<polyline points="668.1,655.2 671.5,665.3 683.2,672.0 693.2,672.0" fill="none"/>
<polyline points="760.0,599.3 765.0,598.5 773.4,600.1 776.7,596.8 791.7,600.1 806.8,603.5 808.4,615.2 790.1,635.2" fill="none"/>
<polyline points="775.0,660.3 781.7,646.9 790.1,635.2" fill="none"/>
<polyline points="780.0,672.0 783.4,673.6 791.7,672.0 806.8,673.6" fill="none"/>
<polyline points="758.3,688.7 751.6,699.7" fill="none"/>
<polyline points="765.0,548.4 791.7,540.0" fill="none"/>
<polyline points="800.1,556.7 803.4,570.1" fill="none"/>
<polygon points="806.8,673.4 811.8,665.1 820.2,658.4 828.5,653.4 836.9,645.0 846.9,640.0 848.6,656.7 856.9,665.1 870.3,670.1 872.0,678.4 875.3,688.4 863.6,698.5 856.9,697.6 840.2,696.0 821.8,695.1 813.5,690.1" fill="#8c0380"/>
<polygon points="750.0,711.8 756.7,688.4 770.1,680.1 790.1,672.6 805.1,673.4 813.5,690.1 821.8,695.1 814.3,700.1 813.5,710.2 816.0,718.5 810.2,723.5 798.5,731.9 788.4,735.2 773.4,730.2 761.7,721.8" fill="#4c0373"/>
<polygon points="814.3,700.1 821.8,695.1 840.2,696.0 856.9,697.6 861.9,706.8 864.4,716.8 855.2,726.9 846.9,728.5 838.5,728.5 833.5,721.8 816.0,718.5 813.5,710.2" fill="#8c0380"/>
<polygon points="788.4,735.2 798.5,731.9 810.2,723.5 816.0,718.5 833.5,721.8 838.5,728.5 846.9,728.5 856.9,740.2 863.6,753.6 868.6,766.9 856.9,772.0 848.6,775.3 836.9,778.6 830.2,772.0 816.8,766.1 806.8,768.6 800.1,775.3 793.4,787.0 780.1,787.0 783.4,778.6 795.1,766.9 796.8,758.6 793.4,748.6 795.1,741.9" fill="#4c0373"/>
<polygon points="793.4,787.0 800.1,775.3 806.8,768.6 816.8,766.1 830.2,772.0 836.9,778.6 833.5,787.0 825.2,795.3 813.5,797.8 805.1,793.7" fill="#4e0335"/>
<polygon points="855.2,726.9 864.4,716.8 873.6,723.5 885.3,731.9 898.7,743.6 897.0,751.9 890.3,760.3 873.6,770.3 868.6,766.9 863.6,753.6 856.9,740.2 846.9,728.5" fill="#ff66a3"/>
<polygon points="863.6,698.5 875.3,688.4 887.0,686.8 893.7,693.4 895.3,703.5 903.7,715.2 907.0,723.5 908.7,733.5 900.3,741.9 898.7,743.6 885.3,731.9 873.6,723.5 864.4,716.8 861.9,706.8 856.9,697.6" fill="#cc0080"/>
<polygon points="893.7,693.4 917.1,693.4 918.7,706.8 922.1,721.8 908.7,733.5 907.0,723.5 903.7,715.2 895.3,703.5" fill="#4c0373"/>
<polygon points="873.6,770.3 890.3,760.3 897.0,751.9 898.7,743.6 903.7,756.9 908.7,766.9 893.7,778.6 887.0,785.3 880.3,778.6" fill="#cc0080"/>
<polygon points="785.1,746.9 791.8,748.6 795.1,756.9 796.8,760.3 788.4,768.6 781.8,775.3 776.7,772.0 780.1,761.9 784.3,755.2" fill="#fff5f1"/>
<polygon points="755.0,787.0 768.4,778.6 776.7,773.6 781.8,775.3 788.4,768.6 796.8,760.3 797.6,763.6 795.1,766.9 783.4,778.6 780.1,787.0 775.1,790.3 773.4,799.7 755.0,799.7" fill="#4c0373" stroke="#4c0373" stroke-width="0.6"/>
<path d="M755.0,799.7L755.0,787.0L768.4,778.6L776.7,773.6L781.8,775.3L788.4,768.6L796.8,760.3L797.6,763.6L795.1,766.9L783.4,778.6L780.1,787.0L775.1,790.3L773.4,799.7" fill="none"/>
<polygon points="750.0,770.3 740.0,763.6 750.0,746.9 760.0,753.6 768.4,750.2 771.7,735.2 773.4,730.2 788.4,735.2 795.1,741.9 793.8,748.2 791.8,748.6 785.1,746.9 784.3,755.2 780.1,761.9 776.7,772.0 768.4,780.3 760.0,777.0" fill="#8c0380"/>
<polyline points="796.8,505.1 813.5,525.1 826.9,546.8 828.5,553.5" fill="none"/>
<polyline points="811.8,525.1 815.2,523.4 826.9,510.1" fill="none"/>
<polyline points="788.4,510.1 793.4,535.1 801.8,565.2" fill="none"/>
</g>
<path d="M775.2,152.9 L786.9,148.2 L797.5,145.3 L801.6,147.0 L800.4,156.4 L803.3,157.6 L809.2,162.8 L815.0,165.2 L818.5,174.0 L822.1,181.0 L823.8,189.2 L827.3,191.5 L829.1,189.8 L839.6,196.2 L852.5,196.2 L853.1,205.6 L850.2,212.6 L846.7,220.8 L840.8,218.5 L833.8,216.1 L833.8,213.2 L830.3,222.0 L825.6,226.7 L823.2,232.5 L820.9,237.2 L821.0,236.7 L820.1,248.4 L821.0,258.4 L825.1,265.9 L838.5,266.7 L854.4,265.9 L851.0,276.8 L846.9,286.8 L841.8,298.5 L833.5,296.0 L842.7,301.8 L838.5,308.5 L843.5,311.8 L845.2,321.0 L837.7,323.5 L831.8,330.2 L830.2,338.6 L826.8,343.6 L828.5,351.9 L823.5,356.9 L820.1,367.0 L816.8,368.6 L816.0,374.5 L816.0,375.0 L826.8,376.7 L835.2,380.0 L841.8,386.7 L842.7,400.1 L841.8,405.9 L845.2,406.7 L846.9,410.1 L842.7,415.9 L838.5,421.8 L833.5,426.8 L832.7,433.5 L836.0,436.0 L840.2,436.8 L851.0,443.5 L852.7,439.3 L856.0,443.5 L864.4,433.5 L868.6,436.0 L875.2,440.2 L876.9,448.5 L880.3,455.2 L875.2,461.0 L876.9,461.0 L886.9,465.2 L892.0,466.9 L898.6,461.0 L902.0,456.9 L900.3,463.5 L896.1,470.2 L895.3,475.2 L898.6,478.6 L896.1,485.2 L894.5,489.4 L900.3,495.3 L910.3,503.6 L916.2,507.0 L916.0,510.0 L916.9,515.0 L913.5,525.0 L911.9,528.4 L916.0,530.0 L923.6,526.7 L935.2,524.2 L941.1,525.9 L943.6,530.0 L953.6,538.4 L956.1,543.4 L955.6,550.1 L957.8,560.1 L956.1,573.5 L955.3,585.2 L962.0,585.2 L977.0,586.8 L978.7,593.5 L982.9,600.2 L987.9,606.9 L985.4,616.9 L982.9,618.6 L983.7,625.2 L977.8,625.2 L980.3,633.6 L982.9,638.6 L977.0,643.6 L977.8,648.6 L977.8,650.0 L970.3,656.7 L964.5,665.0 L963.6,675.1 L962.0,686.7 L958.6,695.1 L958.6,700.1 L963.6,705.1 L968.7,706.8 L970.3,701.8 L977.0,691.8 L987.0,683.4 L996.2,679.2 L1003.7,688.4 L1007.1,700.1 L1010.4,713.5 L1011.2,723.5 L1008.7,730.2 L1010.4,736.9 L1012.1,748.5 L1016.3,754.4 L1013.8,756.1 L1010.4,753.6 L1003.7,760.2 L1005.4,766.9 L1013.8,773.6 L1018.8,780.3 L1022.9,785.3 L1022.1,776.7 L1023.8,790.1 L1017.1,800.1 L1008.8,807.6 L998.8,811.8 L993.8,812.6 L988.7,813.1 L977.1,810.1 L973.7,803.4 L972.0,797.6 L967.0,795.9 L965.4,799.3 L961.2,800.9 L958.7,805.1 L953.7,810.1 L952.0,813.4 L945.3,811.8 L935.3,818.5 L928.6,816.8 L920.3,821.8 L916.1,819.3 L908.6,818.5 L901.9,810.1 L895.2,804.3 L890.2,802.6 L883.5,804.3 L875.2,806.8 L871.8,810.1 L873.5,818.5 L866.8,824.3 L861.8,830.2 L856.8,827.6 L847.6,824.3 L840.1,826.8 L838.4,821.8 L830.1,824.3 L820.0,825.1 L810.0,823.5 L806.7,820.1 L806.3,823.1 L804.6,836.9 L790.0,838.2 L777.5,841.7 L770.5,845.2 L769.3,849.9 L758.8,855.8 L748.3,859.3 L750.6,864.0 L751.8,868.6 L737.7,871.0 L728.4,875.7 L721.3,880.9 L715.5,878.0 L712.0,881.5 L704.9,885.0 L699.1,888.5 L697.9,894.4 L693.2,899.1 L686.2,901.4 L681.5,906.1 L676.8,912.0 L670.4,918.4 L666.3,917.8 L659.3,912.0 L649.9,908.5 L642.9,907.3 L638.8,903.8 L641.7,901.4 L642.3,897.9 L638.8,893.2 L642.9,890.9 L648.7,887.4 L654.6,886.2 L659.3,890.9 L661.6,886.2 L665.1,881.5 L669.8,878.0 L675.7,881.5 L679.2,879.2 L681.5,876.8 L687.4,880.4 L693.2,881.5 L695.6,878.0 L690.9,879.2 L688.5,874.5 L690.9,871.0 L695.6,869.8 L701.4,868.6 L699.7,864.0 L702.6,859.3 L710.8,854.6 L713.1,848.7 L716.7,844.1 L722.5,839.4 L727.2,837.6 L733.0,838.2 L735.4,834.7 L740.1,830.0 L745.3,826.4 L748.7,821.4 L753.7,816.4 L760.3,813.0 L760.3,808.0 L755.3,803.8 L760.3,799.7 L768.7,798.0 L765.3,793.5 L763.6,786.8 L768.7,783.5 L767.0,778.5 L762.0,779.3 L752.0,776.0 L741.9,771.8 L736.9,765.9 L730.2,769.3 L723.6,766.8 L715.2,760.9 L710.2,762.6 L701.8,769.3 L695.2,766.8 L686.8,761.8 L683.5,753.4 L676.8,745.1 L677.1,743.6 L672.1,741.9 L670.5,746.9 L658.8,751.1 L651.2,745.2 L651.2,740.2 L641.2,733.5 L639.6,731.9 L633.7,733.5 L623.7,732.7 L618.7,728.5 L610.3,726.9 L607.0,732.7 L604.5,733.5 L605.3,726.9 L602.0,726.9 L604.5,718.5 L595.3,718.5 L586.9,721.8 L580.3,715.2 L573.6,710.2 L570.2,701.8 L573.6,696.8 L580.3,694.3 L563.6,696.8 L555.2,691.8 L548.5,688.4 L543.5,690.1 L541.8,696.8 L533.5,701.0 L523.5,698.5 L515.1,698.5 L513.4,691.8 L512.1,690.2 L502.9,676.9 L500.4,671.8 L494.6,669.3 L488.7,673.5 L485.4,684.4 L477.1,682.7 L472.0,680.2 L465.4,681.0 L460.3,688.5 L458.7,696.9 L455.3,705.2 L447.0,713.6 L442.0,713.6 L437.8,706.9 L431.1,709.4 L428.6,703.6 L421.1,701.9 L419.4,690.2 L415.2,678.5 L416.9,660.2 L410.2,656.8 L406.9,654.3 L403.6,656.8 L403.6,663.5 L401.9,670.2 L393.5,678.5 L381.8,689.4 L376.0,686.0 L378.5,696.9 L375.2,703.6 L363.5,706.9 L351.8,711.9 L340.1,717.8 L339.3,722.8 L328.4,724.5 L313.4,720.3 L310.9,713.6 L316.7,711.9 L318.4,698.6 L315.9,690.2 L323.4,683.5 L324.2,677.7 L333.4,670.2 L331.7,655.1 L327.6,640.1 L335.1,637.6 L340.9,647.6 L345.9,653.5 L355.1,652.6 L363.5,653.5 L368.5,648.5 L372.7,645.1 L368.5,640.1 L376.8,635.1 L378.5,623.4 L376.8,611.7 L385.2,601.7 L393.5,598.4 L406.9,600.0 L416.9,598.4 L425.3,597.5 L433.6,601.7 L432.0,596.7 L437.0,593.3 L431.7,597.0 L425.1,587.0 L426.7,582.0 L433.4,572.0 L431.7,568.6 L435.9,556.9 L434.2,546.9 L435.1,533.5 L431.7,523.5 L435.9,511.8 L443.4,508.5 L453.4,506.8 L454.3,495.1 L455.1,486.8 L450.1,478.4 L451.8,468.4 L455.1,466.7 L458.5,473.4 L461.8,481.8 L471.8,484.3 L483.5,481.8 L496.9,477.6 L506.9,473.4 L505.2,461.7 L508.6,456.7 L506.9,448.4 L506.1,440.0 L506.0,440.3 L510.2,433.6 L516.9,423.6 L521.9,415.2 L526.1,411.9 L527.7,406.9 L533.6,400.2 L538.6,396.9 L541.9,398.5 L541.9,386.9 L546.9,378.5 L550.3,371.8 L553.6,369.3 L563.6,371.8 L567.0,375.2 L573.7,377.7 L583.7,372.7 L587.0,374.3 L597.1,373.5 L595.4,366.8 L598.7,355.1 L603.7,341.8 L608.7,328.4 L610.4,316.7 L609.6,306.7 L612.9,300.0 L609.2,306.8 L613.4,298.5 L615.9,288.4 L626.8,278.4 L630.9,271.7 L634.3,270.1 L638.5,263.4 L642.6,262.5 L645.1,265.1 L648.5,260.0 L658.5,255.0 L670.2,251.7 L680.2,246.7 L688.6,241.7 L691.9,240.0 L693.9,238.4 L696.8,230.8 L703.9,223.8 L708.5,213.2 L716.2,207.4 L720.3,200.9 L724.9,199.2 L734.3,194.5 L737.8,193.9 L743.7,187.5 L751.9,173.4 L756.0,171.7 L758.9,164.1 L767.1,158.2 L773.0,157.0 L775.5,153.5Z M435.0,453.7 L437.5,447.8 L445.1,442.0 L452.6,436.1 L459.3,439.5 L464.3,445.3 L466.8,447.8 L465.4,452.8 L453.4,451.7 L441.7,455.0 L435.9,455.3Z" fill="none" stroke="#c4bcc1" stroke-width="0.8"/>
<polyline points="706.1,859.9 700.8,863.4 702.0,868.6 707.9,869.2 710.8,866.3" fill="none" stroke="#fff" stroke-width="2.3" stroke-linecap="round" stroke-linejoin="round"/><polyline points="695.6,870.4 689.7,873.3 689.1,878.6 693.8,880.9 697.9,879.2" fill="none" stroke="#fff" stroke-width="2.3" stroke-linecap="round" stroke-linejoin="round"/>
<text class="lb" x="731.0" y="249.2" textLength="56.8" lengthAdjust="spacingAndGlyphs">Buitrago</text>
<text class="lb" x="721.6" y="268.0" textLength="75.4" lengthAdjust="spacingAndGlyphs">del Lozoya</text>
<text class="lb" x="601.7" y="391.9" textLength="84.3" lengthAdjust="spacingAndGlyphs">Manzanares</text>
<text class="lb" x="618.0" y="410.7" textLength="49.3" lengthAdjust="spacingAndGlyphs">El Real</text>
<text class="lb" x="678.0" y="434.1" textLength="67.8" lengthAdjust="spacingAndGlyphs">Colmenar</text>
<text class="lb" x="695.7" y="451.7" textLength="33.3" lengthAdjust="spacingAndGlyphs">Viejo</text>
<text class="lb" x="564.5" y="457.4" textLength="52.5" lengthAdjust="spacingAndGlyphs">Collado</text>
<text class="lb" x="567.0" y="474.9" textLength="47.6" lengthAdjust="spacingAndGlyphs">Villalba</text>
<text class="lb" x="431.0" y="553.4" textLength="80.0" lengthAdjust="spacingAndGlyphs">Robledo de</text>
<text class="lb" x="442.6" y="571.0" textLength="56.8" lengthAdjust="spacingAndGlyphs">Chavela</text>
<text class="lb" x="847.6" y="549.1" textLength="60.9" lengthAdjust="spacingAndGlyphs">Alcalá de</text>
<text class="lb" x="847.6" y="566.7" textLength="59.3" lengthAdjust="spacingAndGlyphs">Henares</text>
<text class="lb" x="585.2" y="572.4" textLength="94.4" lengthAdjust="spacingAndGlyphs">Majadahonda</text>
<text class="lb" x="694.0" y="595.0" textLength="46.8" lengthAdjust="spacingAndGlyphs">Madrid</text>
<text class="lb" x="557.6" y="614.1" textLength="55.1" lengthAdjust="spacingAndGlyphs">Brunete</text>
<text class="lb" x="343.4" y="619.1" textLength="99.4" lengthAdjust="spacingAndGlyphs">San Martín de</text>
<text class="lb" x="347.6" y="637.5" textLength="91.9" lengthAdjust="spacingAndGlyphs">Valdeiglesias</text>
<text class="lb" x="659.0" y="655.9" textLength="60.0" lengthAdjust="spacingAndGlyphs">Leganés</text>
<text class="lb" x="811.0" y="670.7" textLength="60.0" lengthAdjust="spacingAndGlyphs">Arganda</text>
<text class="lb" x="815.0" y="688.3" textLength="53.0" lengthAdjust="spacingAndGlyphs">del Rey</text>
<text class="lb" x="672.9" y="715.2" textLength="35.9" lengthAdjust="spacingAndGlyphs">Parla</text>
<text class="lb" x="910.0" y="766.0" textLength="57.0" lengthAdjust="spacingAndGlyphs">Villarejo</text>
<text class="lb" x="896.0" y="783.5" textLength="86.0" lengthAdjust="spacingAndGlyphs">de Salvanés</text>
<text class="lb" x="699.4" y="858.8" textLength="62.6" lengthAdjust="spacingAndGlyphs">Aranjuez</text>
</svg>
<div class="t" style="left:9.5px;top:69.68px;font-size:11.6px;transform:scaleX(1.0350);font-weight:bold;-webkit-text-stroke:0.5px #000">Comunidad</div>
<div class="t" style="left:9.5px;top:82.18px;font-size:11.6px;transform:scaleX(1.2051);font-weight:bold;-webkit-text-stroke:0.5px #000">de Madrid</div>
<div class="t" style="left:96.0px;top:81.67px;font-size:12.2px;transform:scaleX(1.0123);color:#111">CONSEJERÍA DE SANIDAD</div>
<div class="t" style="left:1226.0px;top:74.95px;font-size:21.8px;transform:scaleX(1.0314);color:#d8262f">Salud</div>
<div class="t" style="left:1284.0px;top:74.95px;font-size:21.8px;transform:scaleX(1.0429);color:#0a83b0">Madrid</div>
<div class="t" style="left:156.0px;top:133.88px;font-size:20.7px;transform:scaleX(1.1610);-webkit-text-stroke:0.55px #111;color:#111">Situación epidemiológica</div>
<div class="t" style="left:429.6px;top:133.88px;font-size:20.7px;transform:scaleX(1.0564);font-weight:bold;color:#111">COVID-19</div>
<div class="t" style="left:546.2px;top:133.88px;font-size:20.7px;transform:scaleX(1.0218);-webkit-text-stroke:0.5px #111;color:#111">16/02/2021</div>
<div class="t" style="left:156.0px;top:166.43px;font-size:15.2px;transform:scaleX(1.2468);-webkit-text-stroke:0.45px #111;color:#111">Tasas de incidencia acumulada (dos últimas</div>
<div class="t" style="left:156.0px;top:186.23px;font-size:15.2px;transform:scaleX(1.2297);-webkit-text-stroke:0.45px #111;color:#111">semanas epidemiológicas, 5 y 6)</div>
<div class="t" style="left:156.0px;top:214.21px;font-size:17px;transform:scaleX(1.1853);font-style:italic;-webkit-text-stroke:0.45px #111;color:#111">Casos confirmados/100.000 habitantes</div>
<div class="t" style="left:949.0px;top:134.51px;font-size:20.9px;transform:scaleX(1.1287);-webkit-text-stroke:0.7px #111;color:#111">Comunidad de Madrid</div>
<div class="t" style="left:904.0px;top:175.93px;font-size:17.8px;transform:scaleX(1.1654);-webkit-text-stroke:0.65px #111;color:#111">Municipios y Distritos (Madrid)</div>
<div class="t" style="left:49.4px;top:747.58px;font-size:14.2px;transform:scaleX(1.1145);color:#000">Consulta toda la información sobre los municipios y distritos en:</div>
<div class="t" style="left:49.4px;top:781.78px;font-size:14.2px;transform:scaleX(1.0398);color:#0808c4;text-decoration:underline">https://www.comunidad.madrid/servicios/salud/2019-nuevo-coronavirus</div>
<div class="t" style="left:176.0px;top:885.42px;font-size:12.5px;transform:scaleX(1.0067);color:#222">10</div>
<div class="t" style="left:214.3px;top:885.00px;font-size:13px;transform:scaleX(1.0615);color:#333">Km</div>
<div class="t" style="left:155.0px;top:926.13px;font-size:12.6px;transform:scaleX(1.0081);color:#555">Fuente: Red de Vigilancia Epidemiológica de la Comunidad de Madrid, Dirección General de Salud Pública, Consejería de Sanidad, Comunidad de Madrid</div>
<div class="t" style="left:976.0px;top:881.00px;font-size:7.8px;transform:scaleX(1.1098);font-weight:bold;color:#222;-webkit-text-stroke:0.3px #222">Comunidad</div>
<div class="t" style="left:976.0px;top:890.60px;font-size:7.8px;transform:scaleX(1.2925);font-weight:bold;color:#222;-webkit-text-stroke:0.3px #222">de Madrid</div>
<div class="t" style="left:1039.0px;top:876.38px;font-size:9px;transform:scaleX(1.0064);color:#555">Dirección General de Salud Pública</div>
<div class="t" style="left:1039.0px;top:890.53px;font-size:8px;transform:scaleX(1.1256);color:#555">CONSEJERÍA DE SANIDAD</div>
<div class="t" style="left:203.8px;top:255.22px;font-size:19.0px;transform:scaleX(1.0649);color:#222">> 700</div>
<div class="t" style="left:203.8px;top:285.32px;font-size:19.0px;transform:scaleX(0.9926);color:#222">601 - 700</div>
<div class="t" style="left:203.8px;top:315.42px;font-size:19.0px;transform:scaleX(0.9926);color:#222">501 - 600</div>
<div class="t" style="left:203.8px;top:345.52px;font-size:19.0px;transform:scaleX(0.9926);color:#222">401 - 500</div>
<div class="t" style="left:203.8px;top:375.62px;font-size:19.0px;transform:scaleX(0.9926);color:#222">301 - 400</div>
<div class="t" style="left:203.8px;top:405.72px;font-size:19.0px;transform:scaleX(0.9926);color:#222">201 - 300</div>
<div class="t" style="left:203.8px;top:435.82px;font-size:19.0px;transform:scaleX(0.9926);color:#222">101 - 200</div>
<div class="t" style="left:203.8px;top:465.92px;font-size:19.0px;transform:scaleX(0.9995);color:#222">51 - 100</div>
<div class="t" style="left:203.8px;top:496.02px;font-size:19.0px;transform:scaleX(1.0007);color:#222">26 - 50</div>
<div class="t" style="left:203.8px;top:526.12px;font-size:19.0px;transform:scaleX(1.0640);color:#222">≤ 25</div>
</body></html>
